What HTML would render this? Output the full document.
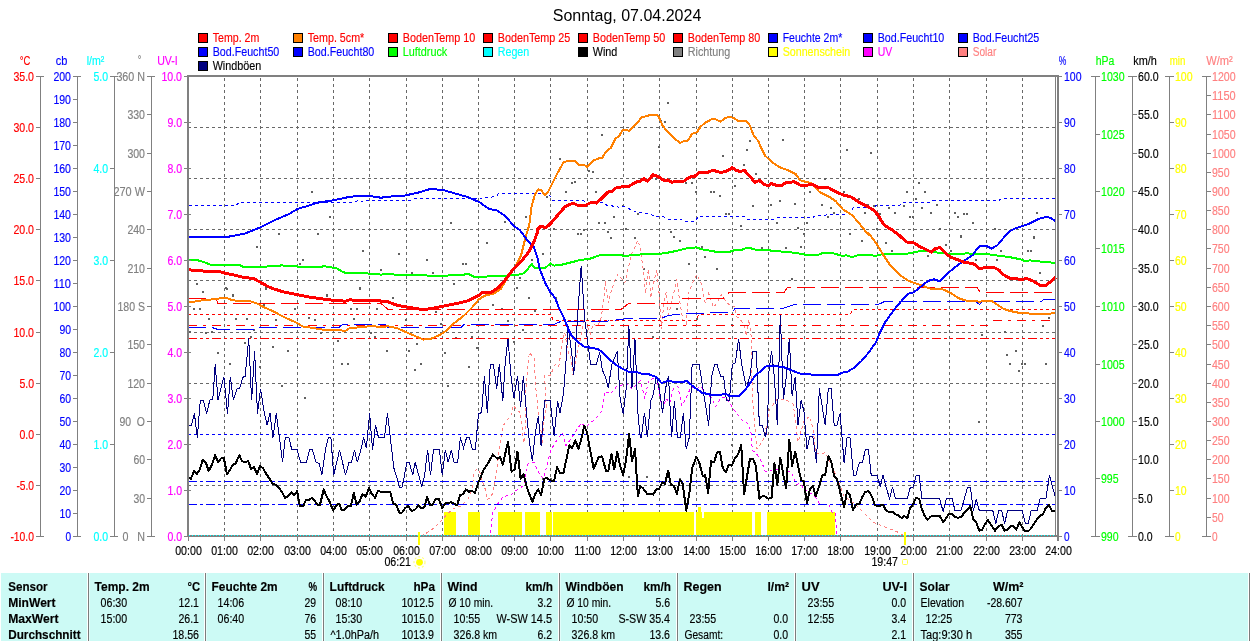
<!DOCTYPE html><html><head><meta charset="utf-8"><style>html,body{margin:0;padding:0;background:#fff}svg{display:block}text{white-space:pre}</style></head><body><svg width="1250" height="641" viewBox="0 0 1250 641" font-family="Liberation Sans, sans-serif" font-size="12.5px" shape-rendering="crispEdges">
<rect x="0" y="0" width="1250" height="641" fill="#fff"/>
<line x1="224.5" y1="78" x2="224.5" y2="535" stroke="#686868" stroke-width="1" stroke-dasharray="3 3"/>
<line x1="260.5" y1="78" x2="260.5" y2="535" stroke="#686868" stroke-width="1" stroke-dasharray="3 3"/>
<line x1="297.5" y1="78" x2="297.5" y2="535" stroke="#686868" stroke-width="1" stroke-dasharray="3 3"/>
<line x1="333.5" y1="78" x2="333.5" y2="535" stroke="#686868" stroke-width="1" stroke-dasharray="3 3"/>
<line x1="369.5" y1="78" x2="369.5" y2="535" stroke="#686868" stroke-width="1" stroke-dasharray="3 3"/>
<line x1="406.5" y1="78" x2="406.5" y2="535" stroke="#686868" stroke-width="1" stroke-dasharray="3 3"/>
<line x1="442.5" y1="78" x2="442.5" y2="535" stroke="#686868" stroke-width="1" stroke-dasharray="3 3"/>
<line x1="478.5" y1="78" x2="478.5" y2="535" stroke="#686868" stroke-width="1" stroke-dasharray="3 3"/>
<line x1="514.5" y1="78" x2="514.5" y2="535" stroke="#686868" stroke-width="1" stroke-dasharray="3 3"/>
<line x1="550.5" y1="78" x2="550.5" y2="535" stroke="#686868" stroke-width="1" stroke-dasharray="3 3"/>
<line x1="587.5" y1="78" x2="587.5" y2="535" stroke="#686868" stroke-width="1" stroke-dasharray="3 3"/>
<line x1="623.5" y1="78" x2="623.5" y2="535" stroke="#686868" stroke-width="1" stroke-dasharray="3 3"/>
<line x1="659.5" y1="78" x2="659.5" y2="535" stroke="#686868" stroke-width="1" stroke-dasharray="3 3"/>
<line x1="696.5" y1="78" x2="696.5" y2="535" stroke="#686868" stroke-width="1" stroke-dasharray="3 3"/>
<line x1="732.5" y1="78" x2="732.5" y2="535" stroke="#686868" stroke-width="1" stroke-dasharray="3 3"/>
<line x1="768.5" y1="78" x2="768.5" y2="535" stroke="#686868" stroke-width="1" stroke-dasharray="3 3"/>
<line x1="804.5" y1="78" x2="804.5" y2="535" stroke="#686868" stroke-width="1" stroke-dasharray="3 3"/>
<line x1="840.5" y1="78" x2="840.5" y2="535" stroke="#686868" stroke-width="1" stroke-dasharray="3 3"/>
<line x1="877.5" y1="78" x2="877.5" y2="535" stroke="#686868" stroke-width="1" stroke-dasharray="3 3"/>
<line x1="913.5" y1="78" x2="913.5" y2="535" stroke="#686868" stroke-width="1" stroke-dasharray="3 3"/>
<line x1="949.5" y1="78" x2="949.5" y2="535" stroke="#686868" stroke-width="1" stroke-dasharray="3 3"/>
<line x1="986.5" y1="78" x2="986.5" y2="535" stroke="#686868" stroke-width="1" stroke-dasharray="3 3"/>
<line x1="1022.5" y1="78" x2="1022.5" y2="535" stroke="#686868" stroke-width="1" stroke-dasharray="3 3"/>
<line x1="188" y1="127.5" x2="1055" y2="127.5" stroke="#686868" stroke-width="1" stroke-dasharray="3 3"/>
<line x1="188" y1="178.5" x2="1055" y2="178.5" stroke="#686868" stroke-width="1" stroke-dasharray="3 3"/>
<line x1="188" y1="229.5" x2="1055" y2="229.5" stroke="#686868" stroke-width="1" stroke-dasharray="3 3"/>
<line x1="188" y1="280.5" x2="1055" y2="280.5" stroke="#686868" stroke-width="1" stroke-dasharray="3 3"/>
<line x1="188" y1="332.5" x2="1055" y2="332.5" stroke="#686868" stroke-width="1" stroke-dasharray="3 3"/>
<line x1="188" y1="383.5" x2="1055" y2="383.5" stroke="#686868" stroke-width="1" stroke-dasharray="3 3"/>
<line x1="188" y1="434.5" x2="1055" y2="434.5" stroke="#686868" stroke-width="1" stroke-dasharray="3 3"/>
<line x1="188" y1="485.5" x2="1055" y2="485.5" stroke="#686868" stroke-width="1" stroke-dasharray="3 3"/>
<rect x="444" y="512" width="12" height="24" fill="#ffff00"/>
<rect x="468" y="512" width="12" height="24" fill="#ffff00"/>
<rect x="498" y="512" width="24" height="24" fill="#ffff00"/>
<rect x="525" y="512" width="15" height="24" fill="#ffff00"/>
<rect x="546" y="512" width="6" height="24" fill="#ffff00"/>
<rect x="553" y="512" width="141" height="24" fill="#ffff00"/>
<rect x="696" y="512" width="56" height="24" fill="#ffff00"/>
<rect x="755" y="512" width="6" height="24" fill="#ffff00"/>
<rect x="767" y="512" width="68" height="24" fill="#ffff00"/>
<rect x="698" y="507" width="3" height="5" fill="#ffff00"/>
<rect x="702" y="512" width="2" height="6" fill="#fff"/>
<rect x="196" y="283" width="2" height="2" fill="#606060"/>
<rect x="202" y="291" width="2" height="2" fill="#606060"/>
<rect x="225" y="287" width="2" height="2" fill="#606060"/>
<rect x="232" y="294" width="2" height="2" fill="#606060"/>
<rect x="193" y="308" width="2" height="2" fill="#606060"/>
<rect x="199" y="308" width="2" height="2" fill="#606060"/>
<rect x="208" y="318" width="2" height="2" fill="#606060"/>
<rect x="217" y="352" width="2" height="2" fill="#606060"/>
<rect x="229" y="363" width="2" height="2" fill="#606060"/>
<rect x="235" y="318" width="2" height="2" fill="#606060"/>
<rect x="246" y="318" width="2" height="2" fill="#606060"/>
<rect x="265" y="287" width="2" height="2" fill="#606060"/>
<rect x="263" y="304" width="2" height="2" fill="#606060"/>
<rect x="275" y="319" width="2" height="2" fill="#606060"/>
<rect x="272" y="346" width="2" height="2" fill="#606060"/>
<rect x="287" y="350" width="2" height="2" fill="#606060"/>
<rect x="281" y="385" width="2" height="2" fill="#606060"/>
<rect x="304" y="397" width="2" height="2" fill="#606060"/>
<rect x="294" y="308" width="2" height="2" fill="#606060"/>
<rect x="308" y="317" width="2" height="2" fill="#606060"/>
<rect x="314" y="319" width="2" height="2" fill="#606060"/>
<rect x="320" y="332" width="2" height="2" fill="#606060"/>
<rect x="326" y="294" width="2" height="2" fill="#606060"/>
<rect x="337" y="340" width="2" height="2" fill="#606060"/>
<rect x="341" y="363" width="2" height="2" fill="#606060"/>
<rect x="347" y="363" width="2" height="2" fill="#606060"/>
<rect x="350" y="308" width="2" height="2" fill="#606060"/>
<rect x="353" y="318" width="2" height="2" fill="#606060"/>
<rect x="356" y="308" width="2" height="2" fill="#606060"/>
<rect x="359" y="287" width="2" height="2" fill="#606060"/>
<rect x="370" y="332" width="2" height="2" fill="#606060"/>
<rect x="374" y="336" width="2" height="2" fill="#606060"/>
<rect x="376" y="308" width="2" height="2" fill="#606060"/>
<rect x="386" y="350" width="2" height="2" fill="#606060"/>
<rect x="392" y="297" width="2" height="2" fill="#606060"/>
<rect x="405" y="319" width="2" height="2" fill="#606060"/>
<rect x="408" y="350" width="2" height="2" fill="#606060"/>
<rect x="416" y="343" width="2" height="2" fill="#606060"/>
<rect x="414" y="369" width="2" height="2" fill="#606060"/>
<rect x="420" y="363" width="2" height="2" fill="#606060"/>
<rect x="435" y="311" width="2" height="2" fill="#606060"/>
<rect x="440" y="323" width="2" height="2" fill="#606060"/>
<rect x="444" y="352" width="2" height="2" fill="#606060"/>
<rect x="447" y="385" width="2" height="2" fill="#606060"/>
<rect x="453" y="283" width="2" height="2" fill="#606060"/>
<rect x="455" y="337" width="2" height="2" fill="#606060"/>
<rect x="468" y="366" width="2" height="2" fill="#606060"/>
<rect x="471" y="336" width="2" height="2" fill="#606060"/>
<rect x="477" y="347" width="2" height="2" fill="#606060"/>
<rect x="311" y="191" width="2" height="2" fill="#606060"/>
<rect x="329" y="216" width="2" height="2" fill="#606060"/>
<rect x="278" y="233" width="2" height="2" fill="#606060"/>
<rect x="317" y="233" width="2" height="2" fill="#606060"/>
<rect x="256" y="246" width="2" height="2" fill="#606060"/>
<rect x="362" y="250" width="2" height="2" fill="#606060"/>
<rect x="398" y="253" width="2" height="2" fill="#606060"/>
<rect x="450" y="222" width="2" height="2" fill="#606060"/>
<rect x="426" y="259" width="2" height="2" fill="#606060"/>
<rect x="302" y="259" width="2" height="2" fill="#606060"/>
<rect x="299" y="263" width="2" height="2" fill="#606060"/>
<rect x="462" y="263" width="2" height="2" fill="#606060"/>
<rect x="465" y="263" width="2" height="2" fill="#606060"/>
<rect x="380" y="269" width="2" height="2" fill="#606060"/>
<rect x="411" y="272" width="2" height="2" fill="#606060"/>
<rect x="432" y="272" width="2" height="2" fill="#606060"/>
<rect x="453" y="283" width="2" height="2" fill="#606060"/>
<rect x="196" y="283" width="2" height="2" fill="#606060"/>
<rect x="202" y="291" width="2" height="2" fill="#606060"/>
<rect x="226" y="288" width="2" height="2" fill="#606060"/>
<rect x="232" y="295" width="2" height="2" fill="#606060"/>
<rect x="359" y="288" width="2" height="2" fill="#606060"/>
<rect x="326" y="295" width="2" height="2" fill="#606060"/>
<rect x="392" y="297" width="2" height="2" fill="#606060"/>
<rect x="265" y="288" width="2" height="2" fill="#606060"/>
<rect x="667" y="102" width="2" height="2" fill="#606060"/>
<rect x="601" y="134" width="2" height="2" fill="#606060"/>
<rect x="559" y="158" width="2" height="2" fill="#606060"/>
<rect x="592" y="171" width="2" height="2" fill="#606060"/>
<rect x="588" y="170" width="2" height="2" fill="#606060"/>
<rect x="574" y="181" width="2" height="2" fill="#606060"/>
<rect x="571" y="182" width="2" height="2" fill="#606060"/>
<rect x="565" y="191" width="2" height="2" fill="#606060"/>
<rect x="595" y="191" width="2" height="2" fill="#606060"/>
<rect x="546" y="196" width="2" height="2" fill="#606060"/>
<rect x="525" y="216" width="2" height="2" fill="#606060"/>
<rect x="504" y="221" width="2" height="2" fill="#606060"/>
<rect x="486" y="242" width="2" height="2" fill="#606060"/>
<rect x="553" y="228" width="2" height="2" fill="#606060"/>
<rect x="577" y="233" width="2" height="2" fill="#606060"/>
<rect x="580" y="233" width="2" height="2" fill="#606060"/>
<rect x="583" y="229" width="2" height="2" fill="#606060"/>
<rect x="598" y="222" width="2" height="2" fill="#606060"/>
<rect x="604" y="222" width="2" height="2" fill="#606060"/>
<rect x="607" y="231" width="2" height="2" fill="#606060"/>
<rect x="610" y="237" width="2" height="2" fill="#606060"/>
<rect x="613" y="216" width="2" height="2" fill="#606060"/>
<rect x="622" y="205" width="2" height="2" fill="#606060"/>
<rect x="625" y="228" width="2" height="2" fill="#606060"/>
<rect x="637" y="213" width="2" height="2" fill="#606060"/>
<rect x="634" y="237" width="2" height="2" fill="#606060"/>
<rect x="658" y="146" width="2" height="2" fill="#606060"/>
<rect x="660" y="120" width="2" height="2" fill="#606060"/>
<rect x="664" y="121" width="2" height="2" fill="#606060"/>
<rect x="670" y="231" width="2" height="2" fill="#606060"/>
<rect x="673" y="236" width="2" height="2" fill="#606060"/>
<rect x="679" y="240" width="2" height="2" fill="#606060"/>
<rect x="685" y="182" width="2" height="2" fill="#606060"/>
<rect x="691" y="182" width="2" height="2" fill="#606060"/>
<rect x="695" y="191" width="2" height="2" fill="#606060"/>
<rect x="710" y="191" width="2" height="2" fill="#606060"/>
<rect x="713" y="191" width="2" height="2" fill="#606060"/>
<rect x="719" y="195" width="2" height="2" fill="#606060"/>
<rect x="722" y="155" width="2" height="2" fill="#606060"/>
<rect x="725" y="213" width="2" height="2" fill="#606060"/>
<rect x="728" y="213" width="2" height="2" fill="#606060"/>
<rect x="734" y="185" width="2" height="2" fill="#606060"/>
<rect x="740" y="225" width="2" height="2" fill="#606060"/>
<rect x="743" y="164" width="2" height="2" fill="#606060"/>
<rect x="746" y="149" width="2" height="2" fill="#606060"/>
<rect x="749" y="140" width="2" height="2" fill="#606060"/>
<rect x="752" y="205" width="2" height="2" fill="#606060"/>
<rect x="755" y="173" width="2" height="2" fill="#606060"/>
<rect x="655" y="178" width="2" height="2" fill="#606060"/>
<rect x="731" y="168" width="2" height="2" fill="#606060"/>
<rect x="486" y="242" width="2" height="2" fill="#606060"/>
<rect x="542" y="253" width="2" height="2" fill="#606060"/>
<rect x="531" y="259" width="2" height="2" fill="#606060"/>
<rect x="519" y="277" width="2" height="2" fill="#606060"/>
<rect x="516" y="287" width="2" height="2" fill="#606060"/>
<rect x="528" y="297" width="2" height="2" fill="#606060"/>
<rect x="492" y="304" width="2" height="2" fill="#606060"/>
<rect x="501" y="308" width="2" height="2" fill="#606060"/>
<rect x="534" y="310" width="2" height="2" fill="#606060"/>
<rect x="507" y="320" width="2" height="2" fill="#606060"/>
<rect x="522" y="329" width="2" height="2" fill="#606060"/>
<rect x="513" y="341" width="2" height="2" fill="#606060"/>
<rect x="476" y="347" width="2" height="2" fill="#606060"/>
<rect x="555" y="297" width="2" height="2" fill="#606060"/>
<rect x="643" y="268" width="2" height="2" fill="#606060"/>
<rect x="688" y="263" width="2" height="2" fill="#606060"/>
<rect x="704" y="256" width="2" height="2" fill="#606060"/>
<rect x="716" y="268" width="2" height="2" fill="#606060"/>
<rect x="701" y="246" width="2" height="2" fill="#606060"/>
<rect x="761" y="247" width="2" height="2" fill="#606060"/>
<rect x="740" y="225" width="2" height="2" fill="#606060"/>
<rect x="676" y="308" width="2" height="2" fill="#606060"/>
<rect x="652" y="336" width="2" height="2" fill="#606060"/>
<rect x="731" y="324" width="2" height="2" fill="#606060"/>
<rect x="696" y="318" width="2" height="2" fill="#606060"/>
<rect x="542" y="478" width="2" height="2" fill="#606060"/>
<rect x="550" y="478" width="2" height="2" fill="#606060"/>
<rect x="628" y="476" width="2" height="2" fill="#606060"/>
<rect x="646" y="476" width="2" height="2" fill="#606060"/>
<rect x="664" y="482" width="2" height="2" fill="#606060"/>
<rect x="679" y="478" width="2" height="2" fill="#606060"/>
<rect x="731" y="444" width="2" height="2" fill="#606060"/>
<rect x="782" y="139" width="2" height="2" fill="#606060"/>
<rect x="846" y="149" width="2" height="2" fill="#606060"/>
<rect x="870" y="152" width="2" height="2" fill="#606060"/>
<rect x="788" y="170" width="2" height="2" fill="#606060"/>
<rect x="824" y="178" width="2" height="2" fill="#606060"/>
<rect x="809" y="191" width="2" height="2" fill="#606060"/>
<rect x="843" y="191" width="2" height="2" fill="#606060"/>
<rect x="779" y="200" width="2" height="2" fill="#606060"/>
<rect x="770" y="204" width="2" height="2" fill="#606060"/>
<rect x="794" y="203" width="2" height="2" fill="#606060"/>
<rect x="821" y="204" width="2" height="2" fill="#606060"/>
<rect x="830" y="207" width="2" height="2" fill="#606060"/>
<rect x="833" y="212" width="2" height="2" fill="#606060"/>
<rect x="827" y="216" width="2" height="2" fill="#606060"/>
<rect x="776" y="222" width="2" height="2" fill="#606060"/>
<rect x="806" y="222" width="2" height="2" fill="#606060"/>
<rect x="797" y="227" width="2" height="2" fill="#606060"/>
<rect x="803" y="233" width="2" height="2" fill="#606060"/>
<rect x="849" y="233" width="2" height="2" fill="#606060"/>
<rect x="861" y="240" width="2" height="2" fill="#606060"/>
<rect x="858" y="198" width="2" height="2" fill="#606060"/>
<rect x="867" y="204" width="2" height="2" fill="#606060"/>
<rect x="873" y="205" width="2" height="2" fill="#606060"/>
<rect x="864" y="212" width="2" height="2" fill="#606060"/>
<rect x="879" y="213" width="2" height="2" fill="#606060"/>
<rect x="888" y="207" width="2" height="2" fill="#606060"/>
<rect x="894" y="212" width="2" height="2" fill="#606060"/>
<rect x="885" y="242" width="2" height="2" fill="#606060"/>
<rect x="876" y="228" width="2" height="2" fill="#606060"/>
<rect x="903" y="205" width="2" height="2" fill="#606060"/>
<rect x="906" y="191" width="2" height="2" fill="#606060"/>
<rect x="915" y="198" width="2" height="2" fill="#606060"/>
<rect x="918" y="182" width="2" height="2" fill="#606060"/>
<rect x="924" y="191" width="2" height="2" fill="#606060"/>
<rect x="921" y="207" width="2" height="2" fill="#606060"/>
<rect x="909" y="216" width="2" height="2" fill="#606060"/>
<rect x="912" y="216" width="2" height="2" fill="#606060"/>
<rect x="930" y="212" width="2" height="2" fill="#606060"/>
<rect x="936" y="204" width="2" height="2" fill="#606060"/>
<rect x="939" y="228" width="2" height="2" fill="#606060"/>
<rect x="954" y="212" width="2" height="2" fill="#606060"/>
<rect x="957" y="216" width="2" height="2" fill="#606060"/>
<rect x="963" y="213" width="2" height="2" fill="#606060"/>
<rect x="966" y="213" width="2" height="2" fill="#606060"/>
<rect x="960" y="236" width="2" height="2" fill="#606060"/>
<rect x="972" y="222" width="2" height="2" fill="#606060"/>
<rect x="994" y="228" width="2" height="2" fill="#606060"/>
<rect x="1033" y="237" width="2" height="2" fill="#606060"/>
<rect x="1036" y="212" width="2" height="2" fill="#606060"/>
<rect x="797" y="227" width="2" height="2" fill="#606060"/>
<rect x="803" y="233" width="2" height="2" fill="#606060"/>
<rect x="785" y="247" width="2" height="2" fill="#606060"/>
<rect x="800" y="246" width="2" height="2" fill="#606060"/>
<rect x="791" y="278" width="2" height="2" fill="#606060"/>
<rect x="849" y="233" width="2" height="2" fill="#606060"/>
<rect x="861" y="240" width="2" height="2" fill="#606060"/>
<rect x="876" y="228" width="2" height="2" fill="#606060"/>
<rect x="885" y="242" width="2" height="2" fill="#606060"/>
<rect x="891" y="250" width="2" height="2" fill="#606060"/>
<rect x="927" y="255" width="2" height="2" fill="#606060"/>
<rect x="945" y="244" width="2" height="2" fill="#606060"/>
<rect x="950" y="250" width="2" height="2" fill="#606060"/>
<rect x="960" y="235" width="2" height="2" fill="#606060"/>
<rect x="939" y="228" width="2" height="2" fill="#606060"/>
<rect x="975" y="259" width="2" height="2" fill="#606060"/>
<rect x="996" y="259" width="2" height="2" fill="#606060"/>
<rect x="1000" y="250" width="2" height="2" fill="#606060"/>
<rect x="994" y="228" width="2" height="2" fill="#606060"/>
<rect x="1027" y="250" width="2" height="2" fill="#606060"/>
<rect x="1030" y="250" width="2" height="2" fill="#606060"/>
<rect x="1033" y="236" width="2" height="2" fill="#606060"/>
<rect x="1039" y="272" width="2" height="2" fill="#606060"/>
<rect x="1048" y="317" width="2" height="2" fill="#606060"/>
<rect x="1042" y="325" width="2" height="2" fill="#606060"/>
<rect x="981" y="334" width="2" height="2" fill="#606060"/>
<rect x="1004" y="331" width="2" height="2" fill="#606060"/>
<rect x="1006" y="354" width="2" height="2" fill="#606060"/>
<rect x="1015" y="350" width="2" height="2" fill="#606060"/>
<rect x="1009" y="363" width="2" height="2" fill="#606060"/>
<rect x="1021" y="363" width="2" height="2" fill="#606060"/>
<rect x="1024" y="363" width="2" height="2" fill="#606060"/>
<rect x="1018" y="370" width="2" height="2" fill="#606060"/>
<rect x="1045" y="363" width="2" height="2" fill="#606060"/>
<rect x="969" y="308" width="2" height="2" fill="#606060"/>
<rect x="978" y="421" width="2" height="2" fill="#606060"/>
<rect x="244" y="342" width="2" height="2" fill="#606060"/>
<rect x="250" y="336" width="2" height="2" fill="#606060"/>
<rect x="259" y="366" width="2" height="2" fill="#606060"/>
<rect x="189" y="331" width="2" height="2" fill="#606060"/>
<rect x="205" y="332" width="2" height="2" fill="#606060"/>
<rect x="211" y="331" width="2" height="2" fill="#606060"/>
<rect x="253" y="329" width="2" height="2" fill="#606060"/>
<polyline points="421.0,536.1 430.5,530.7 439.9,522.4 447.0,514.2 454.1,508.3 461.1,505.9 468.2,498.8 471.8,489.4 474.1,472.9 476.5,469.3 478.8,469.3 482.7,482.3 485.3,489.2 487.0,499.5 491.3,497.8 493.9,485.8 496.4,472.0 498.2,458.3 500.7,439.5 503.3,425.7 506.7,420.6 511.0,415.4 513.6,405.1 516.2,409.4 520.5,412.9 522.2,429.2 523.9,442.9 525.6,422.3 525.7,391.4 529.3,352.4 534.0,358.3 536.0,390.0 537.6,401.7 538.5,420.6 541.0,430.9 541.9,445.5 543.6,424.0 546.2,406.9 544.6,375.1 550.5,375.1 555.2,364.2 558.8,366.6 562.3,343.0 564.7,332.4 568.2,352.4 570.6,357.2 572.9,375.1 576.5,357.2 580.0,340.6 583.6,319.4 587.1,326.5 590.6,333.6 593.0,324.1 597.7,326.5 601.3,317.0 603.6,300.5 605.3,280.5 608.3,302.9 611.9,288.7 615.4,279.3 617.8,274.6 621.3,278.1 624.9,282.8 628.4,267.5 632.0,253.3 637.9,240.3 640.2,248.6 643.0,267.5 645.4,293.4 648.5,268.7 650.8,298.2 653.7,282.8 656.7,269.8 659.1,293.4 661.5,328.8 663.8,302.9 666.2,292.3 668.5,314.7 672.1,300.5 676.8,279.3 680.3,305.2 682.7,319.4 686.2,324.1 688.6,293.4 692.1,284.0 696.9,274.6 701.6,284.0 705.1,302.9 708.7,293.4 713.4,307.6 716.9,302.9 721.6,294.6 725.2,300.5 729.9,305.2 734.6,306.4 737.0,317.0 740.5,319.4 744.1,326.5 746.4,335.9 748.8,319.4 751.1,335.9 752.3,395.0 754.7,423.3 757.0,449.3 761.8,442.2 765.3,435.1 768.8,433.9 765.0,432.8 769.7,409.2 776.8,399.7 786.2,399.7 793.3,404.4 798.0,442.2 803.9,421.0 809.8,416.2 813.4,430.4 815.7,454.0 825.2,452.8 831.1,463.4 837.0,477.6 844.1,496.5 854.7,503.6 864.1,513.0 873.6,522.4 885.4,527.2 897.2,531.9 905.0,536.1" fill="none" stroke="#ff8080" stroke-width="1" stroke-dasharray="3 3"/>
<polyline points="490.3,533.1 492.7,513.0 498.6,502.4 503.3,496.5 510.4,495.3 517.5,489.4 523.4,485.9 528.1,463.4 534.0,462.3 538.7,472.9 543.4,478.8 548.2,461.1 550.5,450.5 556.4,440.9 562.3,432.7 565.9,445.6 569.4,440.9 574.1,433.8 581.2,423.2 585.9,426.8 593.0,420.9 597.7,416.1 602.4,410.2 604.8,391.4 610.7,393.7 616.6,386.6 621.3,385.5 626.1,383.1 632.0,389.0 640.2,380.7 644.9,398.4 648.5,380.7 653.2,378.4 656.7,376.0 660.3,400.8 662.6,410.2 666.2,398.4 669.7,403.2 673.3,389.0 678.0,386.6 681.5,405.5 686.2,398.4 691.0,386.6 695.7,389.0 701.6,386.6 705.1,393.7 711.0,397.3 715.7,406.7 720.5,398.4 725.2,397.3 728.7,400.8 732.3,407.9 737.0,413.8 741.7,419.7 748.8,424.4 751.1,433.8 752.3,450.4 755.9,452.7 761.8,462.2 765.3,471.6 768.8,470.4 776.8,469.3 786.2,470.5 792.1,472.9 795.7,484.7 800.4,483.5 803.9,489.4 812.2,494.1 815.7,497.7 819.3,503.6 828.7,504.7 832.3,512.3 835.3,512.3 837.0,536.1" fill="none" stroke="#ff00ff" stroke-width="1" stroke-dasharray="3 3"/>
<polyline points="188.5,205.5 235.7,205.5 239.3,202.4 354.9,202.4 358.5,200.0 362.0,201.5 364.4,200.0 411.6,200.0 415.1,198.4 478.8,198.4 496.2,196.5 498.6,193.4 547.0,193.4 550.5,196.5 552.9,200.5 583.6,200.5 585.9,202.4 602.4,202.4 607.2,205.5 616.6,206.4 619.0,207.8 623.7,206.6 630.8,209.5 636.7,212.3 649.7,213.7 654.4,216.5 663.8,217.0 668.5,219.4 680.3,219.4 685.1,221.3 695.7,221.3 698.0,216.5 744.1,216.5 747.6,219.4 768.8,219.4 774.4,219.4 778.0,217.0 813.4,217.0 815.7,215.4 847.6,214.2 851.1,210.6 853.5,207.6 873.6,207.6 875.9,205.5 899.5,205.5 903.1,202.4 930.2,202.4 932.6,200.7 998.7,200.7 1001.0,198.4 1055.8,198.4" fill="none" stroke="#0000ff" stroke-width="1" stroke-dasharray="3 3"/>
<polyline points="188.0,434.5 1056.0,434.5" fill="none" stroke="#0000ff" stroke-width="1" stroke-dasharray="3 3"/>
<polyline points="188.0,481.5 1056.0,481.5" fill="none" stroke="#0000ff" stroke-width="1" stroke-dasharray="9 3 3 3"/>
<polyline points="188.0,504.5 1056.0,504.5" fill="none" stroke="#0000ff" stroke-width="1" stroke-dasharray="9 3 3 3"/>
<polyline points="188.0,314.5 551.0,314.5 553.0,320.5 697.0,320.5 698.5,314.5 850.0,314.5 853.0,309.3 1056.0,309.3" fill="none" stroke="#ff0000" stroke-width="1" stroke-dasharray="3 3"/>
<polyline points="188.0,325.5 765.0,325.8 988.0,325.8" fill="none" stroke="#ff0000" stroke-width="1" stroke-dasharray="9 6 3 6"/>
<polyline points="992.8,320.6 1055.8,320.6" fill="none" stroke="#ff0000" stroke-width="1" stroke-dasharray="9 6 3 6"/>
<polyline points="188.0,338.5 1056.0,338.5" fill="none" stroke="#ff0000" stroke-width="1" stroke-dasharray="9 3 3 3 3 3"/>
<polyline points="188.0,298.5 216.0,298.5 218.0,303.5 381.0,303.5 388.0,309.3 475.0,309.3 621.3,309.3 628.4,303.6 678.0,303.6 682.7,298.9 722.8,298.9 728.7,292.7 768.8,292.7 783.9,292.7 787.4,287.5 977.4,287.5 980.2,292.7 1055.8,292.7" fill="none" stroke="#ff0000" stroke-width="1" stroke-dasharray="18 6"/>
<polyline points="188.0,327.5 212.0,327.5 218.0,329.5 253.0,329.5 255.0,327.5 339.0,327.5 342.0,324.8 385.6,324.8 388.0,327.5 461.0,327.5 463.5,324.8 475.0,324.8 552.9,324.8 560.0,321.8 602.4,321.8 626.1,318.7 660.3,318.7 668.5,315.4 685.1,313.5 732.3,312.3 734.6,308.8 768.8,308.3 781.5,308.8 794.5,304.5 878.3,304.5 884.2,301.7 976.2,301.7 979.3,304.5 982.1,301.7 1041.1,301.7 1043.5,299.8 1055.8,299.8" fill="none" stroke="#0000ff" stroke-width="1" stroke-dasharray="18 6"/>
<polyline points="188.5,425.7 191.6,425.2 194.4,413.4 197.3,437.5 200.3,400.2 203.4,400.2 206.7,413.4 209.8,400.2 212.8,399.2 215.2,364.4 218.0,399.8 223.9,376.7 227.5,413.5 230.3,376.7 233.4,400.3 236.9,389.2 239.8,388.0 242.8,377.4 245.2,376.2 248.7,338.4 251.6,400.3 254.6,351.4 257.5,413.5 260.5,388.7 264.1,411.5 267.1,425.2 270.0,413.4 273.0,437.5 276.3,413.4 279.4,437.5 282.5,462.3 285.3,437.5 288.8,437.5 291.7,449.3 297.1,449.8 300.6,462.3 306.5,462.3 309.6,449.8 312.4,449.8 316.0,462.3 319.1,463.4 321.9,475.2 325.4,449.8 328.3,437.5 330.9,437.5 333.7,475.2 339.6,449.8 345.5,475.2 349.0,462.3 351.4,462.3 354.5,449.8 357.3,462.3 360.8,449.8 363.7,437.5 366.3,448.1 369.6,413.4 372.6,449.8 375.5,425.2 378.5,437.5 384.4,437.5 387.5,413.4 390.3,437.5 393.9,468.2 396.2,475.2 399.3,487.0 402.1,487.0 404.5,475.2 406.9,462.3 409.2,462.3 412.8,475.2 415.1,462.3 418.7,475.2 421.7,487.0 424.6,475.2 427.6,449.8 430.5,475.2 433.5,449.8 439.4,449.8 442.3,475.2 445.3,449.8 448.2,462.3 451.2,449.8 454.1,462.3 457.6,462.3 460.4,437.5 463.5,448.1 466.6,437.5 469.4,437.5 472.5,449.8 475.3,449.8 478.5,413.8 481.6,412.6 484.4,376.0 487.3,412.6 490.3,364.2 493.4,364.2 496.7,389.0 499.3,364.2 502.8,400.8 505.2,363.0 508.0,339.0 511.1,377.2 513.9,398.4 517.5,376.0 520.6,406.7 523.4,376.0 526.5,412.6 529.3,440.9 532.4,461.0 535.2,433.8 538.3,416.1 541.1,445.6 544.6,400.3 550.1,400.3 554.1,436.2 557.6,400.8 560.0,412.6 563.5,393.7 565.9,363.0 568.2,326.5 571.8,353.6 573.7,374.8 575.3,353.6 577.7,314.7 581.2,265.6 584.7,319.4 587.8,343.0 590.6,364.2 596.5,364.2 599.6,352.4 602.4,370.1 605.5,377.2 608.3,387.8 611.9,364.2 617.3,351.2 620.1,398.4 623.2,413.8 626.1,389.0 628.9,326.5 632.0,387.8 635.0,339.4 637.9,412.6 640.2,437.4 641.4,437.4 644.5,412.6 647.3,437.4 650.8,400.8 653.2,394.9 656.3,376.0 659.1,387.8 662.6,412.6 665.7,387.8 668.5,376.0 671.6,437.4 674.4,400.8 677.5,437.4 680.3,437.4 683.4,412.6 686.2,449.2 689.3,437.4 692.1,364.2 699.2,364.2 702.8,387.8 708.7,425.6 711.7,376.0 714.6,364.2 716.9,364.2 720.5,376.0 723.5,376.0 726.4,400.8 729.4,400.8 732.3,364.2 735.3,363.0 738.6,339.0 741.7,364.2 746.4,387.8 750.0,376.0 753.0,351.2 756.3,351.2 759.4,425.6 762.5,425.6 765.3,437.4 767.7,424.4 768.5,375.5 771.6,350.7 774.4,377.9 777.3,425.1 780.3,314.6 783.4,399.1 786.2,377.9 789.3,338.9 792.1,395.6 795.2,376.7 798.0,425.1 801.1,400.3 803.9,410.9 807.0,449.2 809.8,436.9 812.9,436.9 816.5,462.9 819.3,388.5 825.2,425.1 828.3,388.5 831.1,388.5 834.2,425.1 837.0,425.1 840.1,413.3 844.1,462.9 847.1,437.5 850.0,437.5 853.5,475.2 855.9,475.2 859.4,462.3 862.5,462.3 865.3,449.8 868.4,449.8 871.2,475.2 877.1,475.2 880.2,487.0 883.0,475.2 886.1,487.0 889.6,498.8 892.4,487.0 895.5,498.8 907.3,498.8 910.1,488.2 913.2,487.0 916.1,475.2 919.1,475.2 922.0,498.8 939.7,498.8 943.2,511.8 946.3,498.8 952.2,498.8 955.0,510.6 960.9,510.6 964.4,498.8 967.5,487.0 970.3,487.0 973.4,510.6 976.2,498.8 979.3,510.6 992.8,510.6 995.8,523.6 998.7,510.6 1001.7,510.6 1004.6,523.6 1007.6,510.6 1022.3,510.6 1025.3,523.6 1028.2,523.6 1031.2,510.6 1037.1,510.6 1040.0,498.8 1045.9,498.8 1049.4,475.2 1052.5,487.0 1055.8,498.8" fill="none" stroke="#000080" stroke-width="1"/>
<polyline points="188.5,260.0 196.8,260.0 203.9,262.1 211.0,264.9 239.3,264.9 242.8,266.8 265.2,266.8 270.0,265.9 279.4,265.9 281.8,264.9 284.1,265.9 295.9,265.9 298.3,266.8 321.9,266.8 324.2,265.9 326.6,266.8 336.1,268.0 342.0,271.5 345.5,273.0 366.7,273.0 369.1,273.9 378.5,273.9 380.9,274.9 384.4,273.9 392.7,273.9 395.1,274.9 425.7,274.9 428.1,275.8 447.0,275.8 449.3,274.9 463.5,274.9 465.9,273.9 469.4,274.4 472.9,276.3 475.3,277.2 478.8,277.2 486.8,276.5 493.9,275.7 505.7,275.7 517.5,275.0 523.4,273.4 528.1,268.7 531.6,263.9 534.0,267.5 545.8,267.5 550.5,263.5 554.1,265.6 560.0,265.1 569.4,262.8 578.8,260.4 590.6,258.5 600.1,255.2 611.9,254.5 621.3,255.2 626.1,256.4 633.1,254.5 640.2,254.5 647.3,254.0 652.0,254.5 663.8,253.3 670.9,252.1 678.0,250.5 687.4,248.1 696.9,247.4 701.6,249.3 708.7,250.5 715.7,251.7 729.9,251.7 733.4,250.5 741.7,249.8 746.4,247.9 750.0,247.9 753.5,249.3 760.6,250.3 768.8,250.3 774.4,251.0 788.6,252.1 802.8,254.0 806.3,255.0 819.3,254.5 822.8,252.8 831.1,252.8 835.8,254.0 842.9,256.2 846.4,255.2 852.3,257.3 858.2,255.0 871.2,255.0 874.7,256.2 883.0,254.0 892.4,253.8 906.6,253.8 918.4,251.4 930.2,251.4 937.3,252.6 949.1,254.0 963.3,254.0 966.8,252.8 970.3,254.0 986.9,254.0 998.7,255.7 1010.5,257.3 1019.9,259.2 1024.6,260.9 1030.5,260.4 1036.4,261.1 1048.2,262.3 1055.8,262.8" fill="none" stroke="#00ff00" stroke-width="2" stroke-linejoin="round"/>
<polyline points="188.5,302.6 199.2,300.7 211.0,299.5 220.4,298.3 227.5,298.3 232.2,300.2 241.6,301.4 248.7,300.7 255.8,303.0 265.2,307.8 274.7,312.0 284.1,317.2 295.9,322.4 303.0,326.6 312.4,327.8 321.9,329.5 331.3,330.4 340.8,330.4 345.5,330.9 350.2,327.8 359.7,327.4 369.1,326.2 378.5,326.6 380.9,327.4 388.0,326.2 397.4,328.3 406.9,332.5 416.3,336.6 423.4,339.6 430.5,338.9 439.9,334.9 447.0,330.2 454.1,323.1 463.5,316.0 472.9,306.6 478.8,299.5 484.4,295.8 493.9,293.4 501.0,288.7 508.0,276.9 515.1,267.5 521.0,255.7 525.7,236.8 529.3,225.0 531.6,205.9 535.2,194.1 538.3,189.4 541.1,189.9 544.6,195.3 548.2,191.8 552.9,182.3 557.6,172.9 563.5,162.3 569.4,160.6 575.3,161.1 578.8,164.6 583.6,164.6 587.1,167.0 593.0,160.6 597.7,158.7 602.4,157.5 606.0,151.6 610.7,148.1 615.4,138.7 619.0,136.3 622.5,130.4 626.1,129.9 629.6,130.9 634.3,125.7 637.9,122.1 641.4,117.4 647.3,115.8 652.0,114.6 656.7,115.1 659.1,117.4 662.6,125.7 668.5,132.8 674.4,138.7 680.3,142.9 683.9,141.0 687.4,141.0 692.1,133.9 696.9,132.3 700.4,126.9 705.1,122.8 708.7,121.0 712.2,118.6 716.9,119.8 720.5,121.7 725.2,117.9 729.9,116.7 733.4,117.9 738.2,121.0 746.4,121.0 750.0,125.7 753.5,135.1 758.2,141.0 761.8,149.3 765.3,155.9 768.8,159.2 772.1,162.3 779.2,167.0 788.6,170.5 795.7,174.1 800.4,180.4 812.2,183.5 819.3,191.8 828.7,196.5 835.8,201.2 842.9,209.5 847.6,212.3 852.3,215.4 859.4,223.6 868.8,235.4 868.8,233.3 875.9,242.7 883.0,254.5 890.1,265.1 899.5,274.6 906.6,279.8 913.7,282.8 920.8,285.2 930.2,288.7 939.7,288.7 944.4,289.9 951.5,293.4 958.5,298.2 965.6,300.5 972.7,301.0 979.8,301.7 984.5,301.0 991.6,301.0 996.3,304.1 1003.4,308.8 1010.5,311.1 1019.9,313.0 1029.3,313.5 1038.8,314.2 1048.2,314.2 1055.8,312.3" fill="none" stroke="#ff8000" stroke-width="2" stroke-linejoin="round"/>
<polyline points="188.5,237.3 227.5,236.9 244.0,233.8 260.5,227.4 274.7,220.1 288.8,214.2 297.3,209.0 307.7,205.9 319.5,202.2 333.7,200.3 347.9,197.2 357.3,196.0 371.5,196.3 380.9,197.7 392.7,196.3 404.5,195.6 418.7,192.5 430.5,188.9 443.4,190.1 454.1,193.2 468.2,197.2 478.8,201.9 479.7,202.4 489.2,209.0 497.4,210.6 505.7,216.5 513.9,226.0 519.8,230.2 525.7,237.8 526.9,240.3 534.0,247.4 537.5,258.0 539.9,269.8 545.8,284.0 550.5,292.3 555.2,298.2 558.8,307.6 563.5,317.0 568.2,328.8 571.8,335.9 576.5,340.6 583.6,346.5 590.6,347.7 597.7,348.9 603.6,353.2 609.5,359.5 616.6,365.4 623.7,369.4 628.4,371.8 637.9,372.5 641.4,373.7 648.5,374.2 656.7,377.2 661.5,383.1 668.5,380.7 675.6,382.4 682.7,382.4 686.2,380.7 692.1,385.5 701.6,392.5 711.0,394.9 720.5,394.9 725.2,393.7 729.9,396.1 739.3,395.6 744.1,391.4 750.0,383.1 755.9,374.8 760.6,371.3 765.3,366.6 768.8,365.9 774.4,366.1 783.9,367.3 791.0,370.1 800.4,373.7 812.2,374.6 838.2,374.6 842.9,372.5 847.6,371.8 854.7,367.3 861.8,360.7 868.8,352.4 875.9,342.3 879.5,333.6 885.4,321.8 894.8,308.8 901.9,300.5 909.0,293.4 913.7,292.3 918.4,288.7 925.5,282.8 930.2,280.0 933.8,279.3 939.7,281.2 949.1,272.2 956.2,266.3 965.6,259.7 972.7,255.2 976.2,249.8 979.8,245.8 985.7,245.5 991.6,248.6 997.5,245.1 1003.4,238.0 1010.5,230.9 1015.2,228.5 1025.8,225.0 1029.3,223.6 1038.8,218.9 1045.9,217.0 1050.6,217.7 1055.8,221.3" fill="none" stroke="#0000ff" stroke-width="2" stroke-linejoin="round"/>
<polyline points="188.5,269.7 196.8,270.8 219.2,271.5 225.1,273.2 232.2,274.6 244.0,277.4 253.4,278.6 260.5,282.2 267.6,286.4 274.7,289.2 284.1,292.1 295.9,294.4 307.7,296.8 317.2,298.2 317.2,298.3 331.3,300.0 345.5,301.2 350.2,299.5 354.9,300.7 373.8,300.2 388.0,301.9 397.4,305.4 411.6,307.8 423.4,309.7 435.2,307.8 447.0,305.4 458.8,303.0 468.2,300.7 478.8,295.5 482.1,292.3 491.5,292.3 498.6,287.5 505.7,279.3 512.8,269.8 522.2,260.4 529.3,251.0 534.0,241.5 537.5,232.1 537.5,229.5 541.1,226.0 545.8,227.9 550.5,223.6 557.6,215.4 564.7,207.1 569.4,204.3 574.1,203.6 578.8,205.9 584.7,205.9 589.5,203.1 593.0,202.4 596.5,203.1 602.4,197.7 608.3,191.8 611.9,191.8 615.4,188.2 621.3,187.0 628.4,186.6 635.5,182.3 640.2,181.1 643.8,178.8 647.3,181.1 653.2,174.8 657.9,176.4 663.8,180.4 667.4,180.0 672.1,182.3 676.8,181.1 683.9,181.1 689.8,177.1 694.5,176.4 699.2,172.4 707.5,172.4 712.2,170.5 715.7,171.0 720.5,172.4 725.2,171.7 728.7,170.1 732.3,167.7 735.8,170.1 740.5,171.7 744.1,170.1 750.0,176.4 754.7,182.3 759.4,180.4 764.1,184.7 768.8,185.4 770.9,183.5 776.8,185.4 781.5,185.4 786.2,182.3 794.5,181.9 800.4,185.2 806.3,185.4 812.2,184.2 819.3,187.8 828.7,187.8 835.8,191.8 842.9,194.8 851.1,197.0 859.4,202.4 866.5,205.9 873.6,210.2 878.3,215.4 883.0,223.6 884.2,225.0 892.4,230.2 899.5,235.6 906.6,242.0 912.5,242.0 918.4,245.8 925.5,249.3 931.4,252.1 936.1,248.1 940.8,247.9 945.6,253.3 950.3,256.9 956.2,259.2 965.6,262.8 972.7,263.2 979.8,268.7 986.9,267.0 992.8,267.0 998.7,269.8 1003.4,274.6 1009.3,278.1 1015.2,278.8 1022.3,279.3 1027.0,278.6 1032.9,280.9 1040.0,285.2 1045.9,285.2 1050.6,281.6 1055.8,277.4" fill="none" stroke="#ff0000" stroke-width="3" stroke-linejoin="round"/>
<polyline points="188.5,478.1 190.9,478.8 194.0,471.0 196.8,474.1 199.6,470.1 202.7,459.9 205.8,462.3 208.6,471.0 211.4,465.8 215.2,455.2 218.0,462.3 221.1,458.3 223.9,458.3 227.0,474.1 229.8,470.1 232.9,464.6 235.7,463.4 239.3,455.2 242.1,461.1 245.2,462.3 248.3,461.1 251.1,469.3 254.2,467.0 257.0,474.1 260.1,465.8 262.9,468.2 266.4,474.1 270.0,479.5 272.8,484.2 275.9,484.7 279.4,488.2 282.5,492.9 285.3,498.1 288.8,495.3 291.7,492.2 294.3,495.3 297.1,491.3 299.9,505.9 303.0,506.4 306.1,500.0 308.9,500.0 312.0,497.7 314.8,501.2 317.6,504.7 320.0,504.7 323.8,489.4 326.6,496.5 329.4,501.2 333.2,510.6 336.1,505.5 339.1,503.6 342.0,510.6 345.0,509.5 347.9,505.9 350.9,505.9 353.8,492.9 356.8,504.7 359.7,501.2 362.5,494.1 365.6,496.5 369.1,488.2 371.9,494.1 375.0,497.7 378.1,490.6 380.9,491.8 390.3,491.8 393.2,503.6 396.2,504.7 399.3,512.5 402.1,512.5 405.0,508.3 408.0,505.9 412.0,511.1 415.1,509.5 418.7,505.5 421.7,508.3 424.6,507.1 426.9,497.0 430.0,504.7 432.8,504.7 435.6,498.8 438.7,498.8 442.3,508.3 445.3,503.1 451.2,502.4 454.1,503.6 457.1,505.5 460.0,495.3 463.0,494.1 465.9,489.4 468.9,491.8 471.8,490.6 474.8,492.9 475.0,492.9 478.5,482.3 483.3,470.5 488.0,463.4 492.7,454.5 497.4,458.7 499.8,456.8 502.8,464.6 505.7,451.6 508.0,442.2 511.6,471.7 514.7,469.3 517.5,451.6 520.6,478.8 523.4,474.1 526.5,485.9 529.3,494.1 532.4,501.7 535.2,494.1 538.3,489.4 541.1,495.3 544.2,478.8 547.0,478.1 550.1,480.4 554.1,481.1 557.1,467.0 560.0,472.9 563.5,472.9 569.4,445.0 572.2,448.1 575.3,440.3 578.4,448.8 581.2,439.8 584.3,425.7 587.1,432.8 590.2,450.5 593.7,468.6 596.5,462.3 598.9,456.8 602.0,456.4 606.0,471.0 608.3,471.0 611.4,454.0 614.2,469.3 617.3,451.6 620.1,465.8 623.2,474.8 626.1,459.9 629.1,433.9 632.0,461.1 635.0,448.8 637.9,496.5 640.2,485.9 643.0,488.2 647.3,494.1 650.8,494.1 653.2,494.6 656.3,489.4 659.1,488.9 662.2,482.3 665.0,484.2 668.1,470.5 670.9,484.7 674.0,485.9 676.8,494.1 679.9,480.0 682.7,483.5 686.2,510.6 689.3,494.1 692.1,468.2 696.4,456.8 699.2,462.3 702.8,476.4 705.1,475.2 708.2,492.9 711.0,461.1 714.1,462.3 716.9,452.8 720.0,451.6 722.8,468.2 725.9,472.4 728.7,464.6 731.8,465.8 734.6,458.7 738.2,454.0 741.2,445.0 744.1,494.1 747.6,472.9 750.0,458.7 753.0,458.7 755.9,465.8 759.4,498.8 762.5,496.0 765.3,496.5 768.5,498.8 771.6,497.7 774.4,463.4 777.3,484.7 780.3,457.5 783.4,475.2 786.2,488.2 789.3,439.8 792.1,465.8 795.2,451.6 798.0,465.8 801.1,480.0 803.9,481.9 807.0,503.6 809.8,489.4 812.9,485.9 815.7,496.5 818.8,487.0 822.4,475.2 825.2,475.2 828.3,456.4 831.1,461.1 834.2,476.4 837.0,478.8 840.1,491.8 844.1,507.1 847.1,491.3 850.0,495.3 853.0,510.2 855.9,504.7 859.4,503.6 862.5,496.5 865.3,491.8 868.8,491.3 871.9,496.5 874.7,504.7 877.8,506.4 883.0,504.7 886.1,510.6 888.9,511.8 892.4,511.8 895.5,514.2 898.3,515.4 901.9,518.2 904.2,515.8 907.3,518.2 910.1,508.3 913.2,504.0 916.1,497.7 919.1,498.8 922.0,509.5 925.0,516.5 927.9,519.6 930.9,516.5 933.8,515.8 939.7,515.8 943.2,522.4 946.3,517.7 949.1,513.5 952.2,514.2 955.0,517.3 958.5,517.7 961.6,516.5 964.4,512.5 967.5,509.5 970.3,505.9 973.4,519.6 976.2,522.4 979.3,530.7 982.1,530.0 985.2,523.6 988.0,520.1 991.1,524.8 995.1,530.7 998.7,526.0 1001.7,524.8 1004.6,530.7 1007.6,529.5 1010.5,526.0 1013.5,526.0 1016.4,529.5 1019.4,522.4 1022.3,527.2 1025.3,531.4 1028.2,531.4 1031.2,528.3 1034.1,523.6 1037.1,518.9 1040.0,515.8 1043.0,514.2 1045.9,507.8 1048.9,504.7 1051.8,510.6 1055.8,511.1" fill="none" stroke="#000000" stroke-width="2" stroke-linejoin="round"/>
<rect x="187" y="75" width="872" height="2" fill="#808080"/>
<rect x="187" y="75" width="2" height="462" fill="#808080"/>
<rect x="187" y="535" width="872" height="2" fill="#808080"/>
<line x1="1055.5" y1="77" x2="1055.5" y2="535" stroke="#808080" stroke-width="1"/>
<rect x="1057" y="75" width="2" height="466" fill="#808080"/>
<line x1="189" y1="535.5" x2="1056" y2="535.5" stroke="#00ffff" stroke-width="1" stroke-dasharray="1 2"/>
<rect x="418" y="532" width="2" height="13" fill="#ffff00"/>
<rect x="904" y="532" width="2" height="13" fill="#ffff00"/>
<line x1="188.5" y1="537" x2="188.5" y2="541" stroke="#808080" stroke-width="1"/>
<line x1="224.5" y1="537" x2="224.5" y2="541" stroke="#808080" stroke-width="1"/>
<line x1="260.5" y1="537" x2="260.5" y2="541" stroke="#808080" stroke-width="1"/>
<line x1="297.5" y1="537" x2="297.5" y2="541" stroke="#808080" stroke-width="1"/>
<line x1="333.5" y1="537" x2="333.5" y2="541" stroke="#808080" stroke-width="1"/>
<line x1="369.5" y1="537" x2="369.5" y2="541" stroke="#808080" stroke-width="1"/>
<line x1="406.5" y1="537" x2="406.5" y2="541" stroke="#808080" stroke-width="1"/>
<line x1="442.5" y1="537" x2="442.5" y2="541" stroke="#808080" stroke-width="1"/>
<line x1="478.5" y1="537" x2="478.5" y2="541" stroke="#808080" stroke-width="1"/>
<line x1="514.5" y1="537" x2="514.5" y2="541" stroke="#808080" stroke-width="1"/>
<line x1="550.5" y1="537" x2="550.5" y2="541" stroke="#808080" stroke-width="1"/>
<line x1="587.5" y1="537" x2="587.5" y2="541" stroke="#808080" stroke-width="1"/>
<line x1="623.5" y1="537" x2="623.5" y2="541" stroke="#808080" stroke-width="1"/>
<line x1="659.5" y1="537" x2="659.5" y2="541" stroke="#808080" stroke-width="1"/>
<line x1="696.5" y1="537" x2="696.5" y2="541" stroke="#808080" stroke-width="1"/>
<line x1="732.5" y1="537" x2="732.5" y2="541" stroke="#808080" stroke-width="1"/>
<line x1="768.5" y1="537" x2="768.5" y2="541" stroke="#808080" stroke-width="1"/>
<line x1="804.5" y1="537" x2="804.5" y2="541" stroke="#808080" stroke-width="1"/>
<line x1="840.5" y1="537" x2="840.5" y2="541" stroke="#808080" stroke-width="1"/>
<line x1="877.5" y1="537" x2="877.5" y2="541" stroke="#808080" stroke-width="1"/>
<line x1="913.5" y1="537" x2="913.5" y2="541" stroke="#808080" stroke-width="1"/>
<line x1="949.5" y1="537" x2="949.5" y2="541" stroke="#808080" stroke-width="1"/>
<line x1="986.5" y1="537" x2="986.5" y2="541" stroke="#808080" stroke-width="1"/>
<line x1="1022.5" y1="537" x2="1022.5" y2="541" stroke="#808080" stroke-width="1"/>
<line x1="1058.5" y1="537" x2="1058.5" y2="541" stroke="#808080" stroke-width="1"/>
<line x1="40.5" y1="76" x2="40.5" y2="537" stroke="#808080" stroke-width="1"/>
<line x1="36" y1="76.5" x2="40" y2="76.5" stroke="#808080" stroke-width="1"/>
<line x1="40" y1="76.5" x2="44" y2="76.5" stroke="#808080" stroke-width="1"/>
<line x1="36" y1="127.5" x2="40" y2="127.5" stroke="#808080" stroke-width="1"/>
<line x1="36" y1="178.5" x2="40" y2="178.5" stroke="#808080" stroke-width="1"/>
<line x1="36" y1="229.5" x2="40" y2="229.5" stroke="#808080" stroke-width="1"/>
<line x1="36" y1="280.5" x2="40" y2="280.5" stroke="#808080" stroke-width="1"/>
<line x1="36" y1="332.5" x2="40" y2="332.5" stroke="#808080" stroke-width="1"/>
<line x1="36" y1="383.5" x2="40" y2="383.5" stroke="#808080" stroke-width="1"/>
<line x1="36" y1="434.5" x2="40" y2="434.5" stroke="#808080" stroke-width="1"/>
<line x1="36" y1="485.5" x2="40" y2="485.5" stroke="#808080" stroke-width="1"/>
<line x1="36" y1="536.5" x2="40" y2="536.5" stroke="#808080" stroke-width="1"/>
<line x1="40" y1="536.5" x2="44" y2="536.5" stroke="#808080" stroke-width="1"/>
<line x1="77.5" y1="76" x2="77.5" y2="537" stroke="#808080" stroke-width="1"/>
<line x1="73" y1="76.5" x2="77" y2="76.5" stroke="#808080" stroke-width="1"/>
<line x1="77" y1="76.5" x2="81" y2="76.5" stroke="#808080" stroke-width="1"/>
<line x1="73" y1="99.5" x2="77" y2="99.5" stroke="#808080" stroke-width="1"/>
<line x1="73" y1="122.5" x2="77" y2="122.5" stroke="#808080" stroke-width="1"/>
<line x1="73" y1="145.5" x2="77" y2="145.5" stroke="#808080" stroke-width="1"/>
<line x1="73" y1="168.5" x2="77" y2="168.5" stroke="#808080" stroke-width="1"/>
<line x1="73" y1="191.5" x2="77" y2="191.5" stroke="#808080" stroke-width="1"/>
<line x1="73" y1="214.5" x2="77" y2="214.5" stroke="#808080" stroke-width="1"/>
<line x1="73" y1="237.5" x2="77" y2="237.5" stroke="#808080" stroke-width="1"/>
<line x1="73" y1="260.5" x2="77" y2="260.5" stroke="#808080" stroke-width="1"/>
<line x1="73" y1="283.5" x2="77" y2="283.5" stroke="#808080" stroke-width="1"/>
<line x1="73" y1="306.5" x2="77" y2="306.5" stroke="#808080" stroke-width="1"/>
<line x1="73" y1="329.5" x2="77" y2="329.5" stroke="#808080" stroke-width="1"/>
<line x1="73" y1="352.5" x2="77" y2="352.5" stroke="#808080" stroke-width="1"/>
<line x1="73" y1="375.5" x2="77" y2="375.5" stroke="#808080" stroke-width="1"/>
<line x1="73" y1="398.5" x2="77" y2="398.5" stroke="#808080" stroke-width="1"/>
<line x1="73" y1="421.5" x2="77" y2="421.5" stroke="#808080" stroke-width="1"/>
<line x1="73" y1="444.5" x2="77" y2="444.5" stroke="#808080" stroke-width="1"/>
<line x1="73" y1="467.5" x2="77" y2="467.5" stroke="#808080" stroke-width="1"/>
<line x1="73" y1="490.5" x2="77" y2="490.5" stroke="#808080" stroke-width="1"/>
<line x1="73" y1="513.5" x2="77" y2="513.5" stroke="#808080" stroke-width="1"/>
<line x1="73" y1="536.5" x2="77" y2="536.5" stroke="#808080" stroke-width="1"/>
<line x1="77" y1="536.5" x2="81" y2="536.5" stroke="#808080" stroke-width="1"/>
<line x1="114.5" y1="76" x2="114.5" y2="537" stroke="#808080" stroke-width="1"/>
<line x1="110" y1="76.5" x2="114" y2="76.5" stroke="#808080" stroke-width="1"/>
<line x1="114" y1="76.5" x2="118" y2="76.5" stroke="#808080" stroke-width="1"/>
<line x1="110" y1="168.5" x2="114" y2="168.5" stroke="#808080" stroke-width="1"/>
<line x1="110" y1="260.5" x2="114" y2="260.5" stroke="#808080" stroke-width="1"/>
<line x1="110" y1="352.5" x2="114" y2="352.5" stroke="#808080" stroke-width="1"/>
<line x1="110" y1="444.5" x2="114" y2="444.5" stroke="#808080" stroke-width="1"/>
<line x1="110" y1="536.5" x2="114" y2="536.5" stroke="#808080" stroke-width="1"/>
<line x1="114" y1="536.5" x2="118" y2="536.5" stroke="#808080" stroke-width="1"/>
<line x1="151.5" y1="76" x2="151.5" y2="537" stroke="#808080" stroke-width="1"/>
<line x1="147" y1="76.5" x2="151" y2="76.5" stroke="#808080" stroke-width="1"/>
<line x1="151" y1="76.5" x2="155" y2="76.5" stroke="#808080" stroke-width="1"/>
<line x1="147" y1="114.5" x2="151" y2="114.5" stroke="#808080" stroke-width="1"/>
<line x1="147" y1="153.5" x2="151" y2="153.5" stroke="#808080" stroke-width="1"/>
<line x1="147" y1="191.5" x2="151" y2="191.5" stroke="#808080" stroke-width="1"/>
<line x1="147" y1="229.5" x2="151" y2="229.5" stroke="#808080" stroke-width="1"/>
<line x1="147" y1="268.5" x2="151" y2="268.5" stroke="#808080" stroke-width="1"/>
<line x1="147" y1="306.5" x2="151" y2="306.5" stroke="#808080" stroke-width="1"/>
<line x1="147" y1="344.5" x2="151" y2="344.5" stroke="#808080" stroke-width="1"/>
<line x1="147" y1="383.5" x2="151" y2="383.5" stroke="#808080" stroke-width="1"/>
<line x1="147" y1="421.5" x2="151" y2="421.5" stroke="#808080" stroke-width="1"/>
<line x1="147" y1="459.5" x2="151" y2="459.5" stroke="#808080" stroke-width="1"/>
<line x1="147" y1="498.5" x2="151" y2="498.5" stroke="#808080" stroke-width="1"/>
<line x1="147" y1="536.5" x2="151" y2="536.5" stroke="#808080" stroke-width="1"/>
<line x1="151" y1="536.5" x2="155" y2="536.5" stroke="#808080" stroke-width="1"/>
<line x1="184" y1="76.5" x2="187" y2="76.5" stroke="#808080" stroke-width="1"/>
<line x1="184" y1="122.5" x2="187" y2="122.5" stroke="#808080" stroke-width="1"/>
<line x1="189" y1="122.5" x2="191" y2="122.5" stroke="#808080" stroke-width="1"/>
<line x1="184" y1="168.5" x2="187" y2="168.5" stroke="#808080" stroke-width="1"/>
<line x1="189" y1="168.5" x2="191" y2="168.5" stroke="#808080" stroke-width="1"/>
<line x1="184" y1="214.5" x2="187" y2="214.5" stroke="#808080" stroke-width="1"/>
<line x1="189" y1="214.5" x2="191" y2="214.5" stroke="#808080" stroke-width="1"/>
<line x1="184" y1="260.5" x2="187" y2="260.5" stroke="#808080" stroke-width="1"/>
<line x1="189" y1="260.5" x2="191" y2="260.5" stroke="#808080" stroke-width="1"/>
<line x1="184" y1="306.5" x2="187" y2="306.5" stroke="#808080" stroke-width="1"/>
<line x1="189" y1="306.5" x2="191" y2="306.5" stroke="#808080" stroke-width="1"/>
<line x1="184" y1="352.5" x2="187" y2="352.5" stroke="#808080" stroke-width="1"/>
<line x1="189" y1="352.5" x2="191" y2="352.5" stroke="#808080" stroke-width="1"/>
<line x1="184" y1="398.5" x2="187" y2="398.5" stroke="#808080" stroke-width="1"/>
<line x1="189" y1="398.5" x2="191" y2="398.5" stroke="#808080" stroke-width="1"/>
<line x1="184" y1="444.5" x2="187" y2="444.5" stroke="#808080" stroke-width="1"/>
<line x1="189" y1="444.5" x2="191" y2="444.5" stroke="#808080" stroke-width="1"/>
<line x1="184" y1="490.5" x2="187" y2="490.5" stroke="#808080" stroke-width="1"/>
<line x1="189" y1="490.5" x2="191" y2="490.5" stroke="#808080" stroke-width="1"/>
<line x1="184" y1="536.5" x2="187" y2="536.5" stroke="#808080" stroke-width="1"/>
<line x1="1059" y1="76.5" x2="1062" y2="76.5" stroke="#808080" stroke-width="1"/>
<line x1="1059" y1="122.5" x2="1062" y2="122.5" stroke="#808080" stroke-width="1"/>
<line x1="1059" y1="168.5" x2="1062" y2="168.5" stroke="#808080" stroke-width="1"/>
<line x1="1059" y1="214.5" x2="1062" y2="214.5" stroke="#808080" stroke-width="1"/>
<line x1="1059" y1="260.5" x2="1062" y2="260.5" stroke="#808080" stroke-width="1"/>
<line x1="1059" y1="306.5" x2="1062" y2="306.5" stroke="#808080" stroke-width="1"/>
<line x1="1059" y1="352.5" x2="1062" y2="352.5" stroke="#808080" stroke-width="1"/>
<line x1="1059" y1="398.5" x2="1062" y2="398.5" stroke="#808080" stroke-width="1"/>
<line x1="1059" y1="444.5" x2="1062" y2="444.5" stroke="#808080" stroke-width="1"/>
<line x1="1059" y1="490.5" x2="1062" y2="490.5" stroke="#808080" stroke-width="1"/>
<line x1="1059" y1="536.5" x2="1062" y2="536.5" stroke="#808080" stroke-width="1"/>
<line x1="1095.5" y1="76" x2="1095.5" y2="537" stroke="#808080" stroke-width="1"/>
<line x1="1096" y1="76.5" x2="1100" y2="76.5" stroke="#808080" stroke-width="1"/>
<line x1="1091" y1="76.5" x2="1095" y2="76.5" stroke="#808080" stroke-width="1"/>
<line x1="1096" y1="134.5" x2="1100" y2="134.5" stroke="#808080" stroke-width="1"/>
<line x1="1096" y1="191.5" x2="1100" y2="191.5" stroke="#808080" stroke-width="1"/>
<line x1="1096" y1="248.5" x2="1100" y2="248.5" stroke="#808080" stroke-width="1"/>
<line x1="1096" y1="306.5" x2="1100" y2="306.5" stroke="#808080" stroke-width="1"/>
<line x1="1096" y1="364.5" x2="1100" y2="364.5" stroke="#808080" stroke-width="1"/>
<line x1="1096" y1="421.5" x2="1100" y2="421.5" stroke="#808080" stroke-width="1"/>
<line x1="1096" y1="478.5" x2="1100" y2="478.5" stroke="#808080" stroke-width="1"/>
<line x1="1096" y1="536.5" x2="1100" y2="536.5" stroke="#808080" stroke-width="1"/>
<line x1="1091" y1="536.5" x2="1095" y2="536.5" stroke="#808080" stroke-width="1"/>
<line x1="1132.5" y1="76" x2="1132.5" y2="537" stroke="#808080" stroke-width="1"/>
<line x1="1133" y1="76.5" x2="1137" y2="76.5" stroke="#808080" stroke-width="1"/>
<line x1="1128" y1="76.5" x2="1132" y2="76.5" stroke="#808080" stroke-width="1"/>
<line x1="1133" y1="114.5" x2="1137" y2="114.5" stroke="#808080" stroke-width="1"/>
<line x1="1133" y1="153.5" x2="1137" y2="153.5" stroke="#808080" stroke-width="1"/>
<line x1="1133" y1="191.5" x2="1137" y2="191.5" stroke="#808080" stroke-width="1"/>
<line x1="1133" y1="229.5" x2="1137" y2="229.5" stroke="#808080" stroke-width="1"/>
<line x1="1133" y1="268.5" x2="1137" y2="268.5" stroke="#808080" stroke-width="1"/>
<line x1="1133" y1="306.5" x2="1137" y2="306.5" stroke="#808080" stroke-width="1"/>
<line x1="1133" y1="344.5" x2="1137" y2="344.5" stroke="#808080" stroke-width="1"/>
<line x1="1133" y1="383.5" x2="1137" y2="383.5" stroke="#808080" stroke-width="1"/>
<line x1="1133" y1="421.5" x2="1137" y2="421.5" stroke="#808080" stroke-width="1"/>
<line x1="1133" y1="459.5" x2="1137" y2="459.5" stroke="#808080" stroke-width="1"/>
<line x1="1133" y1="498.5" x2="1137" y2="498.5" stroke="#808080" stroke-width="1"/>
<line x1="1133" y1="536.5" x2="1137" y2="536.5" stroke="#808080" stroke-width="1"/>
<line x1="1128" y1="536.5" x2="1132" y2="536.5" stroke="#808080" stroke-width="1"/>
<line x1="1169.5" y1="76" x2="1169.5" y2="537" stroke="#808080" stroke-width="1"/>
<line x1="1170" y1="76.5" x2="1174" y2="76.5" stroke="#808080" stroke-width="1"/>
<line x1="1165" y1="76.5" x2="1169" y2="76.5" stroke="#808080" stroke-width="1"/>
<line x1="1170" y1="122.5" x2="1174" y2="122.5" stroke="#808080" stroke-width="1"/>
<line x1="1170" y1="168.5" x2="1174" y2="168.5" stroke="#808080" stroke-width="1"/>
<line x1="1170" y1="214.5" x2="1174" y2="214.5" stroke="#808080" stroke-width="1"/>
<line x1="1170" y1="260.5" x2="1174" y2="260.5" stroke="#808080" stroke-width="1"/>
<line x1="1170" y1="306.5" x2="1174" y2="306.5" stroke="#808080" stroke-width="1"/>
<line x1="1170" y1="352.5" x2="1174" y2="352.5" stroke="#808080" stroke-width="1"/>
<line x1="1170" y1="398.5" x2="1174" y2="398.5" stroke="#808080" stroke-width="1"/>
<line x1="1170" y1="444.5" x2="1174" y2="444.5" stroke="#808080" stroke-width="1"/>
<line x1="1170" y1="490.5" x2="1174" y2="490.5" stroke="#808080" stroke-width="1"/>
<line x1="1170" y1="536.5" x2="1174" y2="536.5" stroke="#808080" stroke-width="1"/>
<line x1="1165" y1="536.5" x2="1169" y2="536.5" stroke="#808080" stroke-width="1"/>
<line x1="1206.5" y1="76" x2="1206.5" y2="537" stroke="#808080" stroke-width="1"/>
<line x1="1207" y1="76.5" x2="1211" y2="76.5" stroke="#808080" stroke-width="1"/>
<line x1="1202" y1="76.5" x2="1206" y2="76.5" stroke="#808080" stroke-width="1"/>
<line x1="1207" y1="95.5" x2="1211" y2="95.5" stroke="#808080" stroke-width="1"/>
<line x1="1207" y1="114.5" x2="1211" y2="114.5" stroke="#808080" stroke-width="1"/>
<line x1="1207" y1="134.5" x2="1211" y2="134.5" stroke="#808080" stroke-width="1"/>
<line x1="1207" y1="153.5" x2="1211" y2="153.5" stroke="#808080" stroke-width="1"/>
<line x1="1207" y1="172.5" x2="1211" y2="172.5" stroke="#808080" stroke-width="1"/>
<line x1="1207" y1="191.5" x2="1211" y2="191.5" stroke="#808080" stroke-width="1"/>
<line x1="1207" y1="210.5" x2="1211" y2="210.5" stroke="#808080" stroke-width="1"/>
<line x1="1207" y1="229.5" x2="1211" y2="229.5" stroke="#808080" stroke-width="1"/>
<line x1="1207" y1="248.5" x2="1211" y2="248.5" stroke="#808080" stroke-width="1"/>
<line x1="1207" y1="268.5" x2="1211" y2="268.5" stroke="#808080" stroke-width="1"/>
<line x1="1207" y1="287.5" x2="1211" y2="287.5" stroke="#808080" stroke-width="1"/>
<line x1="1207" y1="306.5" x2="1211" y2="306.5" stroke="#808080" stroke-width="1"/>
<line x1="1207" y1="325.5" x2="1211" y2="325.5" stroke="#808080" stroke-width="1"/>
<line x1="1207" y1="344.5" x2="1211" y2="344.5" stroke="#808080" stroke-width="1"/>
<line x1="1207" y1="364.5" x2="1211" y2="364.5" stroke="#808080" stroke-width="1"/>
<line x1="1207" y1="383.5" x2="1211" y2="383.5" stroke="#808080" stroke-width="1"/>
<line x1="1207" y1="402.5" x2="1211" y2="402.5" stroke="#808080" stroke-width="1"/>
<line x1="1207" y1="421.5" x2="1211" y2="421.5" stroke="#808080" stroke-width="1"/>
<line x1="1207" y1="440.5" x2="1211" y2="440.5" stroke="#808080" stroke-width="1"/>
<line x1="1207" y1="459.5" x2="1211" y2="459.5" stroke="#808080" stroke-width="1"/>
<line x1="1207" y1="478.5" x2="1211" y2="478.5" stroke="#808080" stroke-width="1"/>
<line x1="1207" y1="498.5" x2="1211" y2="498.5" stroke="#808080" stroke-width="1"/>
<line x1="1207" y1="517.5" x2="1211" y2="517.5" stroke="#808080" stroke-width="1"/>
<line x1="1207" y1="536.5" x2="1211" y2="536.5" stroke="#808080" stroke-width="1"/>
<line x1="1202" y1="536.5" x2="1206" y2="536.5" stroke="#808080" stroke-width="1"/>
<rect x="198" y="33" width="10" height="10" fill="#000"/>
<rect x="199" y="34" width="8" height="8" fill="#ff0000"/>
<rect x="293" y="33" width="10" height="10" fill="#000"/>
<rect x="294" y="34" width="8" height="8" fill="#ff8000"/>
<rect x="388" y="33" width="10" height="10" fill="#000"/>
<rect x="389" y="34" width="8" height="8" fill="#ff0000"/>
<rect x="483" y="33" width="10" height="10" fill="#000"/>
<rect x="484" y="34" width="8" height="8" fill="#ff0000"/>
<rect x="578" y="33" width="10" height="10" fill="#000"/>
<rect x="579" y="34" width="8" height="8" fill="#ff0000"/>
<rect x="673" y="33" width="10" height="10" fill="#000"/>
<rect x="674" y="34" width="8" height="8" fill="#ff0000"/>
<rect x="768" y="33" width="10" height="10" fill="#000"/>
<rect x="769" y="34" width="8" height="8" fill="#0000ff"/>
<rect x="863" y="33" width="10" height="10" fill="#000"/>
<rect x="864" y="34" width="8" height="8" fill="#0000ff"/>
<rect x="958" y="33" width="10" height="10" fill="#000"/>
<rect x="959" y="34" width="8" height="8" fill="#0000ff"/>
<rect x="198" y="47" width="10" height="10" fill="#000"/>
<rect x="199" y="48" width="8" height="8" fill="#0000ff"/>
<rect x="293" y="47" width="10" height="10" fill="#000"/>
<rect x="294" y="48" width="8" height="8" fill="#0000ff"/>
<rect x="388" y="47" width="10" height="10" fill="#000"/>
<rect x="389" y="48" width="8" height="8" fill="#00ff00"/>
<rect x="483" y="47" width="10" height="10" fill="#000"/>
<rect x="484" y="48" width="8" height="8" fill="#00ffff"/>
<rect x="578" y="47" width="10" height="10" fill="#000"/>
<rect x="579" y="48" width="8" height="8" fill="#000000"/>
<rect x="673" y="47" width="10" height="10" fill="#000"/>
<rect x="674" y="48" width="8" height="8" fill="#808080"/>
<rect x="768" y="47" width="10" height="10" fill="#000"/>
<rect x="769" y="48" width="8" height="8" fill="#ffff00"/>
<rect x="863" y="47" width="10" height="10" fill="#000"/>
<rect x="864" y="48" width="8" height="8" fill="#ff00ff"/>
<rect x="958" y="47" width="10" height="10" fill="#000"/>
<rect x="959" y="48" width="8" height="8" fill="#ff8080"/>
<rect x="198" y="61" width="10" height="10" fill="#000"/>
<rect x="199" y="62" width="8" height="8" fill="#000080"/>
<g shape-rendering="auto"><circle cx="419.5" cy="562.3" r="3.4" fill="#ffff00"/><circle cx="419.5" cy="562.3" r="5.5" fill="none" stroke="#ffff80" stroke-width="1.2" stroke-dasharray="2 2"/><rect x="902.5" y="559.5" width="5" height="5" rx="1" fill="none" stroke="#ffff50" stroke-width="1"/></g>
<rect x="1" y="573" width="1249" height="68" fill="#ccfaf5"/>
<line x1="87.5" y1="573" x2="87.5" y2="641" stroke="#ffffff" stroke-width="1"/>
<line x1="88.5" y1="573" x2="88.5" y2="641" stroke="#7c7c7c" stroke-width="1"/>
<line x1="89.5" y1="573" x2="89.5" y2="641" stroke="#e2fdfa" stroke-width="1"/>
<line x1="204.5" y1="573" x2="204.5" y2="641" stroke="#ffffff" stroke-width="1"/>
<line x1="205.5" y1="573" x2="205.5" y2="641" stroke="#7c7c7c" stroke-width="1"/>
<line x1="206.5" y1="573" x2="206.5" y2="641" stroke="#e2fdfa" stroke-width="1"/>
<line x1="322.5" y1="573" x2="322.5" y2="641" stroke="#ffffff" stroke-width="1"/>
<line x1="323.5" y1="573" x2="323.5" y2="641" stroke="#7c7c7c" stroke-width="1"/>
<line x1="324.5" y1="573" x2="324.5" y2="641" stroke="#e2fdfa" stroke-width="1"/>
<line x1="440.5" y1="573" x2="440.5" y2="641" stroke="#ffffff" stroke-width="1"/>
<line x1="441.5" y1="573" x2="441.5" y2="641" stroke="#7c7c7c" stroke-width="1"/>
<line x1="442.5" y1="573" x2="442.5" y2="641" stroke="#e2fdfa" stroke-width="1"/>
<line x1="558.5" y1="573" x2="558.5" y2="641" stroke="#ffffff" stroke-width="1"/>
<line x1="559.5" y1="573" x2="559.5" y2="641" stroke="#7c7c7c" stroke-width="1"/>
<line x1="560.5" y1="573" x2="560.5" y2="641" stroke="#e2fdfa" stroke-width="1"/>
<line x1="676.5" y1="573" x2="676.5" y2="641" stroke="#ffffff" stroke-width="1"/>
<line x1="677.5" y1="573" x2="677.5" y2="641" stroke="#7c7c7c" stroke-width="1"/>
<line x1="678.5" y1="573" x2="678.5" y2="641" stroke="#e2fdfa" stroke-width="1"/>
<line x1="794.5" y1="573" x2="794.5" y2="641" stroke="#ffffff" stroke-width="1"/>
<line x1="795.5" y1="573" x2="795.5" y2="641" stroke="#7c7c7c" stroke-width="1"/>
<line x1="796.5" y1="573" x2="796.5" y2="641" stroke="#e2fdfa" stroke-width="1"/>
<line x1="912.5" y1="573" x2="912.5" y2="641" stroke="#ffffff" stroke-width="1"/>
<line x1="913.5" y1="573" x2="913.5" y2="641" stroke="#7c7c7c" stroke-width="1"/>
<line x1="914.5" y1="573" x2="914.5" y2="641" stroke="#e2fdfa" stroke-width="1"/>
<line x1="1248.5" y1="573" x2="1248.5" y2="641" stroke="#ffffff" stroke-width="1"/>
<line x1="1249.5" y1="573" x2="1249.5" y2="641" stroke="#7c7c7c" stroke-width="1"/>
<line x1="1250.5" y1="573" x2="1250.5" y2="641" stroke="#e2fdfa" stroke-width="1"/>
<defs><filter id="nf" x="0" y="0" width="100%" height="100%" filterUnits="userSpaceOnUse" color-interpolation-filters="sRGB"><feOffset dx="0" dy="0"/></filter></defs>
<g filter="url(#nf)"><text x="627" y="21" font-size="16px" text-anchor="middle" fill="#000">Sonntag, 07.04.2024</text>
<text x="175.2" y="555.0" fill="#000" stroke="#000" stroke-width="0.16" textLength="26.6" lengthAdjust="spacingAndGlyphs" xml:space="preserve">00:00</text>
<text x="211.2" y="555.0" fill="#000" stroke="#000" stroke-width="0.16" textLength="26.6" lengthAdjust="spacingAndGlyphs" xml:space="preserve">01:00</text>
<text x="247.2" y="555.0" fill="#000" stroke="#000" stroke-width="0.16" textLength="26.6" lengthAdjust="spacingAndGlyphs" xml:space="preserve">02:00</text>
<text x="284.2" y="555.0" fill="#000" stroke="#000" stroke-width="0.16" textLength="26.6" lengthAdjust="spacingAndGlyphs" xml:space="preserve">03:00</text>
<text x="320.2" y="555.0" fill="#000" stroke="#000" stroke-width="0.16" textLength="26.6" lengthAdjust="spacingAndGlyphs" xml:space="preserve">04:00</text>
<text x="356.2" y="555.0" fill="#000" stroke="#000" stroke-width="0.16" textLength="26.6" lengthAdjust="spacingAndGlyphs" xml:space="preserve">05:00</text>
<text x="393.2" y="555.0" fill="#000" stroke="#000" stroke-width="0.16" textLength="26.6" lengthAdjust="spacingAndGlyphs" xml:space="preserve">06:00</text>
<text x="429.2" y="555.0" fill="#000" stroke="#000" stroke-width="0.16" textLength="26.6" lengthAdjust="spacingAndGlyphs" xml:space="preserve">07:00</text>
<text x="465.2" y="555.0" fill="#000" stroke="#000" stroke-width="0.16" textLength="26.6" lengthAdjust="spacingAndGlyphs" xml:space="preserve">08:00</text>
<text x="501.2" y="555.0" fill="#000" stroke="#000" stroke-width="0.16" textLength="26.6" lengthAdjust="spacingAndGlyphs" xml:space="preserve">09:00</text>
<text x="537.2" y="555.0" fill="#000" stroke="#000" stroke-width="0.16" textLength="26.6" lengthAdjust="spacingAndGlyphs" xml:space="preserve">10:00</text>
<text x="574.2" y="555.0" fill="#000" stroke="#000" stroke-width="0.16" textLength="26.6" lengthAdjust="spacingAndGlyphs" xml:space="preserve">11:00</text>
<text x="610.2" y="555.0" fill="#000" stroke="#000" stroke-width="0.16" textLength="26.6" lengthAdjust="spacingAndGlyphs" xml:space="preserve">12:00</text>
<text x="646.2" y="555.0" fill="#000" stroke="#000" stroke-width="0.16" textLength="26.6" lengthAdjust="spacingAndGlyphs" xml:space="preserve">13:00</text>
<text x="683.2" y="555.0" fill="#000" stroke="#000" stroke-width="0.16" textLength="26.6" lengthAdjust="spacingAndGlyphs" xml:space="preserve">14:00</text>
<text x="719.2" y="555.0" fill="#000" stroke="#000" stroke-width="0.16" textLength="26.6" lengthAdjust="spacingAndGlyphs" xml:space="preserve">15:00</text>
<text x="755.2" y="555.0" fill="#000" stroke="#000" stroke-width="0.16" textLength="26.6" lengthAdjust="spacingAndGlyphs" xml:space="preserve">16:00</text>
<text x="791.2" y="555.0" fill="#000" stroke="#000" stroke-width="0.16" textLength="26.6" lengthAdjust="spacingAndGlyphs" xml:space="preserve">17:00</text>
<text x="827.2" y="555.0" fill="#000" stroke="#000" stroke-width="0.16" textLength="26.6" lengthAdjust="spacingAndGlyphs" xml:space="preserve">18:00</text>
<text x="864.2" y="555.0" fill="#000" stroke="#000" stroke-width="0.16" textLength="26.6" lengthAdjust="spacingAndGlyphs" xml:space="preserve">19:00</text>
<text x="900.2" y="555.0" fill="#000" stroke="#000" stroke-width="0.16" textLength="26.6" lengthAdjust="spacingAndGlyphs" xml:space="preserve">20:00</text>
<text x="936.2" y="555.0" fill="#000" stroke="#000" stroke-width="0.16" textLength="26.6" lengthAdjust="spacingAndGlyphs" xml:space="preserve">21:00</text>
<text x="973.2" y="555.0" fill="#000" stroke="#000" stroke-width="0.16" textLength="26.6" lengthAdjust="spacingAndGlyphs" xml:space="preserve">22:00</text>
<text x="1009.2" y="555.0" fill="#000" stroke="#000" stroke-width="0.16" textLength="26.6" lengthAdjust="spacingAndGlyphs" xml:space="preserve">23:00</text>
<text x="1045.2" y="555.0" fill="#000" stroke="#000" stroke-width="0.16" textLength="26.6" lengthAdjust="spacingAndGlyphs" xml:space="preserve">24:00</text>
<text x="13.4" y="81.0" fill="#ff0000" stroke="#ff0000" stroke-width="0.16" textLength="20.6" lengthAdjust="spacingAndGlyphs" xml:space="preserve">35.0</text>
<text x="13.4" y="132.0" fill="#ff0000" stroke="#ff0000" stroke-width="0.16" textLength="20.6" lengthAdjust="spacingAndGlyphs" xml:space="preserve">30.0</text>
<text x="13.4" y="183.0" fill="#ff0000" stroke="#ff0000" stroke-width="0.16" textLength="20.6" lengthAdjust="spacingAndGlyphs" xml:space="preserve">25.0</text>
<text x="13.4" y="234.0" fill="#ff0000" stroke="#ff0000" stroke-width="0.16" textLength="20.6" lengthAdjust="spacingAndGlyphs" xml:space="preserve">20.0</text>
<text x="13.4" y="285.0" fill="#ff0000" stroke="#ff0000" stroke-width="0.16" textLength="20.6" lengthAdjust="spacingAndGlyphs" xml:space="preserve">15.0</text>
<text x="13.4" y="337.0" fill="#ff0000" stroke="#ff0000" stroke-width="0.16" textLength="20.6" lengthAdjust="spacingAndGlyphs" xml:space="preserve">10.0</text>
<text x="19.4" y="388.0" fill="#ff0000" stroke="#ff0000" stroke-width="0.16" textLength="14.6" lengthAdjust="spacingAndGlyphs" xml:space="preserve">5.0</text>
<text x="19.4" y="439.0" fill="#ff0000" stroke="#ff0000" stroke-width="0.16" textLength="14.6" lengthAdjust="spacingAndGlyphs" xml:space="preserve">0.0</text>
<text x="16.4" y="490.0" fill="#ff0000" stroke="#ff0000" stroke-width="0.16" textLength="17.6" lengthAdjust="spacingAndGlyphs" xml:space="preserve">-5.0</text>
<text x="10.4" y="541.0" fill="#ff0000" stroke="#ff0000" stroke-width="0.16" textLength="23.6" lengthAdjust="spacingAndGlyphs" xml:space="preserve">-10.0</text>
<text x="53.4" y="81.0" fill="#0000ff" stroke="#0000ff" stroke-width="0.16" textLength="17.6" lengthAdjust="spacingAndGlyphs" xml:space="preserve">200</text>
<text x="53.4" y="104.0" fill="#0000ff" stroke="#0000ff" stroke-width="0.16" textLength="17.6" lengthAdjust="spacingAndGlyphs" xml:space="preserve">190</text>
<text x="53.4" y="127.0" fill="#0000ff" stroke="#0000ff" stroke-width="0.16" textLength="17.6" lengthAdjust="spacingAndGlyphs" xml:space="preserve">180</text>
<text x="53.4" y="150.0" fill="#0000ff" stroke="#0000ff" stroke-width="0.16" textLength="17.6" lengthAdjust="spacingAndGlyphs" xml:space="preserve">170</text>
<text x="53.4" y="173.0" fill="#0000ff" stroke="#0000ff" stroke-width="0.16" textLength="17.6" lengthAdjust="spacingAndGlyphs" xml:space="preserve">160</text>
<text x="53.4" y="196.0" fill="#0000ff" stroke="#0000ff" stroke-width="0.16" textLength="17.6" lengthAdjust="spacingAndGlyphs" xml:space="preserve">150</text>
<text x="53.4" y="219.0" fill="#0000ff" stroke="#0000ff" stroke-width="0.16" textLength="17.6" lengthAdjust="spacingAndGlyphs" xml:space="preserve">140</text>
<text x="53.4" y="242.0" fill="#0000ff" stroke="#0000ff" stroke-width="0.16" textLength="17.6" lengthAdjust="spacingAndGlyphs" xml:space="preserve">130</text>
<text x="53.4" y="265.0" fill="#0000ff" stroke="#0000ff" stroke-width="0.16" textLength="17.6" lengthAdjust="spacingAndGlyphs" xml:space="preserve">120</text>
<text x="53.4" y="288.0" fill="#0000ff" stroke="#0000ff" stroke-width="0.16" textLength="17.6" lengthAdjust="spacingAndGlyphs" xml:space="preserve">110</text>
<text x="53.4" y="311.0" fill="#0000ff" stroke="#0000ff" stroke-width="0.16" textLength="17.6" lengthAdjust="spacingAndGlyphs" xml:space="preserve">100</text>
<text x="59.4" y="334.0" fill="#0000ff" stroke="#0000ff" stroke-width="0.16" textLength="11.6" lengthAdjust="spacingAndGlyphs" xml:space="preserve">90</text>
<text x="59.4" y="357.0" fill="#0000ff" stroke="#0000ff" stroke-width="0.16" textLength="11.6" lengthAdjust="spacingAndGlyphs" xml:space="preserve">80</text>
<text x="59.4" y="380.0" fill="#0000ff" stroke="#0000ff" stroke-width="0.16" textLength="11.6" lengthAdjust="spacingAndGlyphs" xml:space="preserve">70</text>
<text x="59.4" y="403.0" fill="#0000ff" stroke="#0000ff" stroke-width="0.16" textLength="11.6" lengthAdjust="spacingAndGlyphs" xml:space="preserve">60</text>
<text x="59.4" y="426.0" fill="#0000ff" stroke="#0000ff" stroke-width="0.16" textLength="11.6" lengthAdjust="spacingAndGlyphs" xml:space="preserve">50</text>
<text x="59.4" y="449.0" fill="#0000ff" stroke="#0000ff" stroke-width="0.16" textLength="11.6" lengthAdjust="spacingAndGlyphs" xml:space="preserve">40</text>
<text x="59.4" y="472.0" fill="#0000ff" stroke="#0000ff" stroke-width="0.16" textLength="11.6" lengthAdjust="spacingAndGlyphs" xml:space="preserve">30</text>
<text x="59.4" y="495.0" fill="#0000ff" stroke="#0000ff" stroke-width="0.16" textLength="11.6" lengthAdjust="spacingAndGlyphs" xml:space="preserve">20</text>
<text x="59.4" y="518.0" fill="#0000ff" stroke="#0000ff" stroke-width="0.16" textLength="11.6" lengthAdjust="spacingAndGlyphs" xml:space="preserve">10</text>
<text x="65.4" y="541.0" fill="#0000ff" stroke="#0000ff" stroke-width="0.16" textLength="5.6" lengthAdjust="spacingAndGlyphs" xml:space="preserve">0</text>
<text x="93.4" y="81.0" fill="#00ffff" stroke="#00ffff" stroke-width="0.16" textLength="14.6" lengthAdjust="spacingAndGlyphs" xml:space="preserve">5.0</text>
<text x="93.4" y="173.0" fill="#00ffff" stroke="#00ffff" stroke-width="0.16" textLength="14.6" lengthAdjust="spacingAndGlyphs" xml:space="preserve">4.0</text>
<text x="93.4" y="265.0" fill="#00ffff" stroke="#00ffff" stroke-width="0.16" textLength="14.6" lengthAdjust="spacingAndGlyphs" xml:space="preserve">3.0</text>
<text x="93.4" y="357.0" fill="#00ffff" stroke="#00ffff" stroke-width="0.16" textLength="14.6" lengthAdjust="spacingAndGlyphs" xml:space="preserve">2.0</text>
<text x="93.4" y="449.0" fill="#00ffff" stroke="#00ffff" stroke-width="0.16" textLength="14.6" lengthAdjust="spacingAndGlyphs" xml:space="preserve">1.0</text>
<text x="93.4" y="541.0" fill="#00ffff" stroke="#00ffff" stroke-width="0.16" textLength="14.6" lengthAdjust="spacingAndGlyphs" xml:space="preserve">0.0</text>
<text x="116.4" y="81.0" fill="#808080" stroke="#808080" stroke-width="0.16" textLength="28.6" lengthAdjust="spacingAndGlyphs" xml:space="preserve">360 N</text>
<text x="127.4" y="119.0" fill="#808080" stroke="#808080" stroke-width="0.16" textLength="17.6" lengthAdjust="spacingAndGlyphs" xml:space="preserve">330</text>
<text x="127.4" y="158.0" fill="#808080" stroke="#808080" stroke-width="0.16" textLength="17.6" lengthAdjust="spacingAndGlyphs" xml:space="preserve">300</text>
<text x="113.4" y="196.0" fill="#808080" stroke="#808080" stroke-width="0.16" textLength="31.6" lengthAdjust="spacingAndGlyphs" xml:space="preserve">270 W</text>
<text x="127.4" y="234.0" fill="#808080" stroke="#808080" stroke-width="0.16" textLength="17.6" lengthAdjust="spacingAndGlyphs" xml:space="preserve">240</text>
<text x="127.4" y="273.0" fill="#808080" stroke="#808080" stroke-width="0.16" textLength="17.6" lengthAdjust="spacingAndGlyphs" xml:space="preserve">210</text>
<text x="117.4" y="311.0" fill="#808080" stroke="#808080" stroke-width="0.16" textLength="27.6" lengthAdjust="spacingAndGlyphs" xml:space="preserve">180 S</text>
<text x="127.4" y="349.0" fill="#808080" stroke="#808080" stroke-width="0.16" textLength="17.6" lengthAdjust="spacingAndGlyphs" xml:space="preserve">150</text>
<text x="127.4" y="388.0" fill="#808080" stroke="#808080" stroke-width="0.16" textLength="17.6" lengthAdjust="spacingAndGlyphs" xml:space="preserve">120</text>
<text x="119.4" y="426.0" fill="#808080" stroke="#808080" stroke-width="0.16" textLength="25.6" lengthAdjust="spacingAndGlyphs" xml:space="preserve">90  O</text>
<text x="133.4" y="464.0" fill="#808080" stroke="#808080" stroke-width="0.16" textLength="11.6" lengthAdjust="spacingAndGlyphs" xml:space="preserve">60</text>
<text x="133.4" y="503.0" fill="#808080" stroke="#808080" stroke-width="0.16" textLength="11.6" lengthAdjust="spacingAndGlyphs" xml:space="preserve">30</text>
<text x="122.4" y="541.0" fill="#808080" stroke="#808080" stroke-width="0.16" textLength="22.6" lengthAdjust="spacingAndGlyphs" xml:space="preserve">0   N</text>
<text x="161.4" y="81.0" fill="#ff00ff" stroke="#ff00ff" stroke-width="0.16" textLength="20.6" lengthAdjust="spacingAndGlyphs" xml:space="preserve">10.0</text>
<text x="167.4" y="127.0" fill="#ff00ff" stroke="#ff00ff" stroke-width="0.16" textLength="14.6" lengthAdjust="spacingAndGlyphs" xml:space="preserve">9.0</text>
<text x="167.4" y="173.0" fill="#ff00ff" stroke="#ff00ff" stroke-width="0.16" textLength="14.6" lengthAdjust="spacingAndGlyphs" xml:space="preserve">8.0</text>
<text x="167.4" y="219.0" fill="#ff00ff" stroke="#ff00ff" stroke-width="0.16" textLength="14.6" lengthAdjust="spacingAndGlyphs" xml:space="preserve">7.0</text>
<text x="167.4" y="265.0" fill="#ff00ff" stroke="#ff00ff" stroke-width="0.16" textLength="14.6" lengthAdjust="spacingAndGlyphs" xml:space="preserve">6.0</text>
<text x="167.4" y="311.0" fill="#ff00ff" stroke="#ff00ff" stroke-width="0.16" textLength="14.6" lengthAdjust="spacingAndGlyphs" xml:space="preserve">5.0</text>
<text x="167.4" y="357.0" fill="#ff00ff" stroke="#ff00ff" stroke-width="0.16" textLength="14.6" lengthAdjust="spacingAndGlyphs" xml:space="preserve">4.0</text>
<text x="167.4" y="403.0" fill="#ff00ff" stroke="#ff00ff" stroke-width="0.16" textLength="14.6" lengthAdjust="spacingAndGlyphs" xml:space="preserve">3.0</text>
<text x="167.4" y="449.0" fill="#ff00ff" stroke="#ff00ff" stroke-width="0.16" textLength="14.6" lengthAdjust="spacingAndGlyphs" xml:space="preserve">2.0</text>
<text x="167.4" y="495.0" fill="#ff00ff" stroke="#ff00ff" stroke-width="0.16" textLength="14.6" lengthAdjust="spacingAndGlyphs" xml:space="preserve">1.0</text>
<text x="167.4" y="541.0" fill="#ff00ff" stroke="#ff00ff" stroke-width="0.16" textLength="14.6" lengthAdjust="spacingAndGlyphs" xml:space="preserve">0.0</text>
<text x="19.7" y="65.0" fill="#ff0000" stroke="#ff0000" stroke-width="0.16" textLength="10.6" lengthAdjust="spacingAndGlyphs" xml:space="preserve">°C</text>
<text x="55.7" y="65.0" fill="#0000ff" stroke="#0000ff" stroke-width="0.16" textLength="11.6" lengthAdjust="spacingAndGlyphs" xml:space="preserve">cb</text>
<text x="86.7" y="65.0" fill="#00ffff" stroke="#00ffff" stroke-width="0.16" textLength="17.6" lengthAdjust="spacingAndGlyphs" xml:space="preserve">l/m²</text>
<text x="137.7" y="64.0" fill="#808080" stroke="#808080" stroke-width="0.16" textLength="3.6" lengthAdjust="spacingAndGlyphs" xml:space="preserve">°</text>
<text x="157.2" y="65.0" fill="#ff00ff" stroke="#ff00ff" stroke-width="0.16" textLength="20.6" lengthAdjust="spacingAndGlyphs" xml:space="preserve">UV-I</text>
<text x="1064.0" y="81.0" fill="#0000ff" stroke="#0000ff" stroke-width="0.16" textLength="17.6" lengthAdjust="spacingAndGlyphs" xml:space="preserve">100</text>
<text x="1064.0" y="127.0" fill="#0000ff" stroke="#0000ff" stroke-width="0.16" textLength="11.6" lengthAdjust="spacingAndGlyphs" xml:space="preserve">90</text>
<text x="1064.0" y="173.0" fill="#0000ff" stroke="#0000ff" stroke-width="0.16" textLength="11.6" lengthAdjust="spacingAndGlyphs" xml:space="preserve">80</text>
<text x="1064.0" y="219.0" fill="#0000ff" stroke="#0000ff" stroke-width="0.16" textLength="11.6" lengthAdjust="spacingAndGlyphs" xml:space="preserve">70</text>
<text x="1064.0" y="265.0" fill="#0000ff" stroke="#0000ff" stroke-width="0.16" textLength="11.6" lengthAdjust="spacingAndGlyphs" xml:space="preserve">60</text>
<text x="1064.0" y="311.0" fill="#0000ff" stroke="#0000ff" stroke-width="0.16" textLength="11.6" lengthAdjust="spacingAndGlyphs" xml:space="preserve">50</text>
<text x="1064.0" y="357.0" fill="#0000ff" stroke="#0000ff" stroke-width="0.16" textLength="11.6" lengthAdjust="spacingAndGlyphs" xml:space="preserve">40</text>
<text x="1064.0" y="403.0" fill="#0000ff" stroke="#0000ff" stroke-width="0.16" textLength="11.6" lengthAdjust="spacingAndGlyphs" xml:space="preserve">30</text>
<text x="1064.0" y="449.0" fill="#0000ff" stroke="#0000ff" stroke-width="0.16" textLength="11.6" lengthAdjust="spacingAndGlyphs" xml:space="preserve">20</text>
<text x="1064.0" y="495.0" fill="#0000ff" stroke="#0000ff" stroke-width="0.16" textLength="11.6" lengthAdjust="spacingAndGlyphs" xml:space="preserve">10</text>
<text x="1064.0" y="541.0" fill="#0000ff" stroke="#0000ff" stroke-width="0.16" textLength="5.6" lengthAdjust="spacingAndGlyphs" xml:space="preserve">0</text>
<text x="1101.0" y="81.0" fill="#00ff00" stroke="#00ff00" stroke-width="0.16" textLength="23.6" lengthAdjust="spacingAndGlyphs" xml:space="preserve">1030</text>
<text x="1101.0" y="139.0" fill="#00ff00" stroke="#00ff00" stroke-width="0.16" textLength="23.6" lengthAdjust="spacingAndGlyphs" xml:space="preserve">1025</text>
<text x="1101.0" y="196.0" fill="#00ff00" stroke="#00ff00" stroke-width="0.16" textLength="23.6" lengthAdjust="spacingAndGlyphs" xml:space="preserve">1020</text>
<text x="1101.0" y="253.0" fill="#00ff00" stroke="#00ff00" stroke-width="0.16" textLength="23.6" lengthAdjust="spacingAndGlyphs" xml:space="preserve">1015</text>
<text x="1101.0" y="311.0" fill="#00ff00" stroke="#00ff00" stroke-width="0.16" textLength="23.6" lengthAdjust="spacingAndGlyphs" xml:space="preserve">1010</text>
<text x="1101.0" y="369.0" fill="#00ff00" stroke="#00ff00" stroke-width="0.16" textLength="23.6" lengthAdjust="spacingAndGlyphs" xml:space="preserve">1005</text>
<text x="1101.0" y="426.0" fill="#00ff00" stroke="#00ff00" stroke-width="0.16" textLength="23.6" lengthAdjust="spacingAndGlyphs" xml:space="preserve">1000</text>
<text x="1101.0" y="483.0" fill="#00ff00" stroke="#00ff00" stroke-width="0.16" textLength="17.6" lengthAdjust="spacingAndGlyphs" xml:space="preserve">995</text>
<text x="1101.0" y="541.0" fill="#00ff00" stroke="#00ff00" stroke-width="0.16" textLength="17.6" lengthAdjust="spacingAndGlyphs" xml:space="preserve">990</text>
<text x="1138.0" y="81.0" fill="#000000" stroke="#000000" stroke-width="0.16" textLength="20.6" lengthAdjust="spacingAndGlyphs" xml:space="preserve">60.0</text>
<text x="1138.0" y="119.0" fill="#000000" stroke="#000000" stroke-width="0.16" textLength="20.6" lengthAdjust="spacingAndGlyphs" xml:space="preserve">55.0</text>
<text x="1138.0" y="158.0" fill="#000000" stroke="#000000" stroke-width="0.16" textLength="20.6" lengthAdjust="spacingAndGlyphs" xml:space="preserve">50.0</text>
<text x="1138.0" y="196.0" fill="#000000" stroke="#000000" stroke-width="0.16" textLength="20.6" lengthAdjust="spacingAndGlyphs" xml:space="preserve">45.0</text>
<text x="1138.0" y="234.0" fill="#000000" stroke="#000000" stroke-width="0.16" textLength="20.6" lengthAdjust="spacingAndGlyphs" xml:space="preserve">40.0</text>
<text x="1138.0" y="273.0" fill="#000000" stroke="#000000" stroke-width="0.16" textLength="20.6" lengthAdjust="spacingAndGlyphs" xml:space="preserve">35.0</text>
<text x="1138.0" y="311.0" fill="#000000" stroke="#000000" stroke-width="0.16" textLength="20.6" lengthAdjust="spacingAndGlyphs" xml:space="preserve">30.0</text>
<text x="1138.0" y="349.0" fill="#000000" stroke="#000000" stroke-width="0.16" textLength="20.6" lengthAdjust="spacingAndGlyphs" xml:space="preserve">25.0</text>
<text x="1138.0" y="388.0" fill="#000000" stroke="#000000" stroke-width="0.16" textLength="20.6" lengthAdjust="spacingAndGlyphs" xml:space="preserve">20.0</text>
<text x="1138.0" y="426.0" fill="#000000" stroke="#000000" stroke-width="0.16" textLength="20.6" lengthAdjust="spacingAndGlyphs" xml:space="preserve">15.0</text>
<text x="1138.0" y="464.0" fill="#000000" stroke="#000000" stroke-width="0.16" textLength="20.6" lengthAdjust="spacingAndGlyphs" xml:space="preserve">10.0</text>
<text x="1138.0" y="503.0" fill="#000000" stroke="#000000" stroke-width="0.16" textLength="14.6" lengthAdjust="spacingAndGlyphs" xml:space="preserve">5.0</text>
<text x="1138.0" y="541.0" fill="#000000" stroke="#000000" stroke-width="0.16" textLength="14.6" lengthAdjust="spacingAndGlyphs" xml:space="preserve">0.0</text>
<text x="1175.0" y="81.0" fill="#ffff00" stroke="#ffff00" stroke-width="0.16" textLength="17.6" lengthAdjust="spacingAndGlyphs" xml:space="preserve">100</text>
<text x="1175.0" y="127.0" fill="#ffff00" stroke="#ffff00" stroke-width="0.16" textLength="11.6" lengthAdjust="spacingAndGlyphs" xml:space="preserve">90</text>
<text x="1175.0" y="173.0" fill="#ffff00" stroke="#ffff00" stroke-width="0.16" textLength="11.6" lengthAdjust="spacingAndGlyphs" xml:space="preserve">80</text>
<text x="1175.0" y="219.0" fill="#ffff00" stroke="#ffff00" stroke-width="0.16" textLength="11.6" lengthAdjust="spacingAndGlyphs" xml:space="preserve">70</text>
<text x="1175.0" y="265.0" fill="#ffff00" stroke="#ffff00" stroke-width="0.16" textLength="11.6" lengthAdjust="spacingAndGlyphs" xml:space="preserve">60</text>
<text x="1175.0" y="311.0" fill="#ffff00" stroke="#ffff00" stroke-width="0.16" textLength="11.6" lengthAdjust="spacingAndGlyphs" xml:space="preserve">50</text>
<text x="1175.0" y="357.0" fill="#ffff00" stroke="#ffff00" stroke-width="0.16" textLength="11.6" lengthAdjust="spacingAndGlyphs" xml:space="preserve">40</text>
<text x="1175.0" y="403.0" fill="#ffff00" stroke="#ffff00" stroke-width="0.16" textLength="11.6" lengthAdjust="spacingAndGlyphs" xml:space="preserve">30</text>
<text x="1175.0" y="449.0" fill="#ffff00" stroke="#ffff00" stroke-width="0.16" textLength="11.6" lengthAdjust="spacingAndGlyphs" xml:space="preserve">20</text>
<text x="1175.0" y="495.0" fill="#ffff00" stroke="#ffff00" stroke-width="0.16" textLength="11.6" lengthAdjust="spacingAndGlyphs" xml:space="preserve">10</text>
<text x="1175.0" y="541.0" fill="#ffff00" stroke="#ffff00" stroke-width="0.16" textLength="5.6" lengthAdjust="spacingAndGlyphs" xml:space="preserve">0</text>
<text x="1212.0" y="81.0" fill="#ff8080" stroke="#ff8080" stroke-width="0.16" textLength="23.6" lengthAdjust="spacingAndGlyphs" xml:space="preserve">1200</text>
<text x="1212.0" y="100.0" fill="#ff8080" stroke="#ff8080" stroke-width="0.16" textLength="23.6" lengthAdjust="spacingAndGlyphs" xml:space="preserve">1150</text>
<text x="1212.0" y="119.0" fill="#ff8080" stroke="#ff8080" stroke-width="0.16" textLength="23.6" lengthAdjust="spacingAndGlyphs" xml:space="preserve">1100</text>
<text x="1212.0" y="139.0" fill="#ff8080" stroke="#ff8080" stroke-width="0.16" textLength="23.6" lengthAdjust="spacingAndGlyphs" xml:space="preserve">1050</text>
<text x="1212.0" y="158.0" fill="#ff8080" stroke="#ff8080" stroke-width="0.16" textLength="23.6" lengthAdjust="spacingAndGlyphs" xml:space="preserve">1000</text>
<text x="1212.0" y="177.0" fill="#ff8080" stroke="#ff8080" stroke-width="0.16" textLength="17.6" lengthAdjust="spacingAndGlyphs" xml:space="preserve">950</text>
<text x="1212.0" y="196.0" fill="#ff8080" stroke="#ff8080" stroke-width="0.16" textLength="17.6" lengthAdjust="spacingAndGlyphs" xml:space="preserve">900</text>
<text x="1212.0" y="215.0" fill="#ff8080" stroke="#ff8080" stroke-width="0.16" textLength="17.6" lengthAdjust="spacingAndGlyphs" xml:space="preserve">850</text>
<text x="1212.0" y="234.0" fill="#ff8080" stroke="#ff8080" stroke-width="0.16" textLength="17.6" lengthAdjust="spacingAndGlyphs" xml:space="preserve">800</text>
<text x="1212.0" y="253.0" fill="#ff8080" stroke="#ff8080" stroke-width="0.16" textLength="17.6" lengthAdjust="spacingAndGlyphs" xml:space="preserve">750</text>
<text x="1212.0" y="273.0" fill="#ff8080" stroke="#ff8080" stroke-width="0.16" textLength="17.6" lengthAdjust="spacingAndGlyphs" xml:space="preserve">700</text>
<text x="1212.0" y="292.0" fill="#ff8080" stroke="#ff8080" stroke-width="0.16" textLength="17.6" lengthAdjust="spacingAndGlyphs" xml:space="preserve">650</text>
<text x="1212.0" y="311.0" fill="#ff8080" stroke="#ff8080" stroke-width="0.16" textLength="17.6" lengthAdjust="spacingAndGlyphs" xml:space="preserve">600</text>
<text x="1212.0" y="330.0" fill="#ff8080" stroke="#ff8080" stroke-width="0.16" textLength="17.6" lengthAdjust="spacingAndGlyphs" xml:space="preserve">550</text>
<text x="1212.0" y="349.0" fill="#ff8080" stroke="#ff8080" stroke-width="0.16" textLength="17.6" lengthAdjust="spacingAndGlyphs" xml:space="preserve">500</text>
<text x="1212.0" y="369.0" fill="#ff8080" stroke="#ff8080" stroke-width="0.16" textLength="17.6" lengthAdjust="spacingAndGlyphs" xml:space="preserve">450</text>
<text x="1212.0" y="388.0" fill="#ff8080" stroke="#ff8080" stroke-width="0.16" textLength="17.6" lengthAdjust="spacingAndGlyphs" xml:space="preserve">400</text>
<text x="1212.0" y="407.0" fill="#ff8080" stroke="#ff8080" stroke-width="0.16" textLength="17.6" lengthAdjust="spacingAndGlyphs" xml:space="preserve">350</text>
<text x="1212.0" y="426.0" fill="#ff8080" stroke="#ff8080" stroke-width="0.16" textLength="17.6" lengthAdjust="spacingAndGlyphs" xml:space="preserve">300</text>
<text x="1212.0" y="445.0" fill="#ff8080" stroke="#ff8080" stroke-width="0.16" textLength="17.6" lengthAdjust="spacingAndGlyphs" xml:space="preserve">250</text>
<text x="1212.0" y="464.0" fill="#ff8080" stroke="#ff8080" stroke-width="0.16" textLength="17.6" lengthAdjust="spacingAndGlyphs" xml:space="preserve">200</text>
<text x="1212.0" y="483.0" fill="#ff8080" stroke="#ff8080" stroke-width="0.16" textLength="17.6" lengthAdjust="spacingAndGlyphs" xml:space="preserve">150</text>
<text x="1212.0" y="503.0" fill="#ff8080" stroke="#ff8080" stroke-width="0.16" textLength="17.6" lengthAdjust="spacingAndGlyphs" xml:space="preserve">100</text>
<text x="1212.0" y="522.0" fill="#ff8080" stroke="#ff8080" stroke-width="0.16" textLength="11.6" lengthAdjust="spacingAndGlyphs" xml:space="preserve">50</text>
<text x="1212.0" y="541.0" fill="#ff8080" stroke="#ff8080" stroke-width="0.16" textLength="5.6" lengthAdjust="spacingAndGlyphs" xml:space="preserve">0</text>
<text x="1058.7" y="65.0" fill="#0000ff" stroke="#0000ff" stroke-width="0.16" textLength="7.6" lengthAdjust="spacingAndGlyphs" xml:space="preserve">%</text>
<text x="1095.7" y="65.0" fill="#00ff00" stroke="#00ff00" stroke-width="0.16" textLength="18.6" lengthAdjust="spacingAndGlyphs" xml:space="preserve">hPa</text>
<text x="1133.2" y="65.0" fill="#000" stroke="#000" stroke-width="0.16" textLength="23.6" lengthAdjust="spacingAndGlyphs" xml:space="preserve">km/h</text>
<text x="1169.7" y="65.0" fill="#ffff00" stroke="#ffff00" stroke-width="0.16" textLength="15.6" lengthAdjust="spacingAndGlyphs" xml:space="preserve">min</text>
<text x="1206.2" y="65.0" fill="#ff8080" stroke="#ff8080" stroke-width="0.16" textLength="26.6" lengthAdjust="spacingAndGlyphs" xml:space="preserve">W/m²</text>
<text x="212.7" y="41.6" fill="#ff0000" stroke="#ff0000" stroke-width="0.16" textLength="46.6" lengthAdjust="spacingAndGlyphs" xml:space="preserve">Temp. 2m</text>
<text x="307.7" y="41.6" fill="#ff0000" stroke="#ff0000" stroke-width="0.16" textLength="56.6" lengthAdjust="spacingAndGlyphs" xml:space="preserve">Temp. 5cm*</text>
<text x="402.7" y="41.6" fill="#ff0000" stroke="#ff0000" stroke-width="0.16" textLength="72.6" lengthAdjust="spacingAndGlyphs" xml:space="preserve">BodenTemp 10</text>
<text x="497.7" y="41.6" fill="#ff0000" stroke="#ff0000" stroke-width="0.16" textLength="72.6" lengthAdjust="spacingAndGlyphs" xml:space="preserve">BodenTemp 25</text>
<text x="592.7" y="41.6" fill="#ff0000" stroke="#ff0000" stroke-width="0.16" textLength="72.6" lengthAdjust="spacingAndGlyphs" xml:space="preserve">BodenTemp 50</text>
<text x="687.7" y="41.6" fill="#ff0000" stroke="#ff0000" stroke-width="0.16" textLength="72.6" lengthAdjust="spacingAndGlyphs" xml:space="preserve">BodenTemp 80</text>
<text x="782.7" y="41.6" fill="#0000ff" stroke="#0000ff" stroke-width="0.16" textLength="59.6" lengthAdjust="spacingAndGlyphs" xml:space="preserve">Feuchte 2m*</text>
<text x="877.7" y="41.6" fill="#0000ff" stroke="#0000ff" stroke-width="0.16" textLength="66.6" lengthAdjust="spacingAndGlyphs" xml:space="preserve">Bod.Feucht10</text>
<text x="972.7" y="41.6" fill="#0000ff" stroke="#0000ff" stroke-width="0.16" textLength="66.6" lengthAdjust="spacingAndGlyphs" xml:space="preserve">Bod.Feucht25</text>
<text x="212.7" y="55.6" fill="#0000ff" stroke="#0000ff" stroke-width="0.16" textLength="66.6" lengthAdjust="spacingAndGlyphs" xml:space="preserve">Bod.Feucht50</text>
<text x="307.7" y="55.6" fill="#0000ff" stroke="#0000ff" stroke-width="0.16" textLength="66.6" lengthAdjust="spacingAndGlyphs" xml:space="preserve">Bod.Feucht80</text>
<text x="402.7" y="55.6" fill="#00ff00" stroke="#00ff00" stroke-width="0.16" textLength="44.6" lengthAdjust="spacingAndGlyphs" xml:space="preserve">Luftdruck</text>
<text x="497.7" y="55.6" fill="#00ffff" stroke="#00ffff" stroke-width="0.16" textLength="31.6" lengthAdjust="spacingAndGlyphs" xml:space="preserve">Regen</text>
<text x="592.7" y="55.6" fill="#000000" stroke="#000000" stroke-width="0.16" textLength="24.6" lengthAdjust="spacingAndGlyphs" xml:space="preserve">Wind</text>
<text x="687.7" y="55.6" fill="#808080" stroke="#808080" stroke-width="0.16" textLength="42.6" lengthAdjust="spacingAndGlyphs" xml:space="preserve">Richtung</text>
<text x="782.7" y="55.6" fill="#ffff00" stroke="#ffff00" stroke-width="0.16" textLength="67.6" lengthAdjust="spacingAndGlyphs" xml:space="preserve">Sonnenschein</text>
<text x="877.7" y="55.6" fill="#ff00ff" stroke="#ff00ff" stroke-width="0.16" textLength="14.6" lengthAdjust="spacingAndGlyphs" xml:space="preserve">UV</text>
<text x="972.7" y="55.6" fill="#ff8080" stroke="#ff8080" stroke-width="0.16" textLength="23.6" lengthAdjust="spacingAndGlyphs" xml:space="preserve">Solar</text>
<text x="212.7" y="69.6" fill="#000000" stroke="#000000" stroke-width="0.16" textLength="48.6" lengthAdjust="spacingAndGlyphs" xml:space="preserve">Windböen</text>
<text x="384.4" y="566.0" fill="#000" stroke="#000" stroke-width="0.16" textLength="26.6" lengthAdjust="spacingAndGlyphs" xml:space="preserve">06:21</text>
<text x="871.4" y="566.0" fill="#000" stroke="#000" stroke-width="0.16" textLength="26.6" lengthAdjust="spacingAndGlyphs" xml:space="preserve">19:47</text>
<text x="8.2" y="591.0" fill="#000" stroke="#000" stroke-width="0.16" font-weight="bold" textLength="39.4" lengthAdjust="spacingAndGlyphs" xml:space="preserve">Sensor</text>
<text x="8.2" y="607.0" fill="#000" stroke="#000" stroke-width="0.16" font-weight="bold" textLength="47.4" lengthAdjust="spacingAndGlyphs" xml:space="preserve">MinWert</text>
<text x="8.2" y="623.0" fill="#000" stroke="#000" stroke-width="0.16" font-weight="bold" textLength="50.4" lengthAdjust="spacingAndGlyphs" xml:space="preserve">MaxWert</text>
<text x="8.2" y="639.0" fill="#000" stroke="#000" stroke-width="0.16" font-weight="bold" textLength="72.4" lengthAdjust="spacingAndGlyphs" xml:space="preserve">Durchschnitt</text>
<text x="94.6" y="591.0" fill="#000" stroke="#000" stroke-width="0.16" font-weight="bold" textLength="55.0" lengthAdjust="spacingAndGlyphs" xml:space="preserve">Temp. 2m</text>
<text x="187.4" y="591.0" fill="#000" stroke="#000" stroke-width="0.16" font-weight="bold" textLength="12.6" lengthAdjust="spacingAndGlyphs" xml:space="preserve">°C</text>
<text x="100.6" y="607.0" fill="#000" stroke="#000" stroke-width="0.16" textLength="26.6" lengthAdjust="spacingAndGlyphs" xml:space="preserve">06:30</text>
<text x="178.4" y="607.0" fill="#000" stroke="#000" stroke-width="0.16" textLength="20.6" lengthAdjust="spacingAndGlyphs" xml:space="preserve">12.1</text>
<text x="100.6" y="623.0" fill="#000" stroke="#000" stroke-width="0.16" textLength="26.6" lengthAdjust="spacingAndGlyphs" xml:space="preserve">15:00</text>
<text x="178.4" y="623.0" fill="#000" stroke="#000" stroke-width="0.16" textLength="20.6" lengthAdjust="spacingAndGlyphs" xml:space="preserve">26.1</text>
<text x="172.4" y="639.0" fill="#000" stroke="#000" stroke-width="0.16" textLength="26.6" lengthAdjust="spacingAndGlyphs" xml:space="preserve">18.56</text>
<text x="211.6" y="591.0" fill="#000" stroke="#000" stroke-width="0.16" font-weight="bold" textLength="66.0" lengthAdjust="spacingAndGlyphs" xml:space="preserve">Feuchte 2m</text>
<text x="308.4" y="591.0" fill="#000" stroke="#000" stroke-width="0.16" font-weight="bold" textLength="8.6" lengthAdjust="spacingAndGlyphs" xml:space="preserve">%</text>
<text x="217.6" y="607.0" fill="#000" stroke="#000" stroke-width="0.16" textLength="26.6" lengthAdjust="spacingAndGlyphs" xml:space="preserve">14:06</text>
<text x="304.4" y="607.0" fill="#000" stroke="#000" stroke-width="0.16" textLength="11.6" lengthAdjust="spacingAndGlyphs" xml:space="preserve">29</text>
<text x="217.6" y="623.0" fill="#000" stroke="#000" stroke-width="0.16" textLength="26.6" lengthAdjust="spacingAndGlyphs" xml:space="preserve">06:40</text>
<text x="304.4" y="623.0" fill="#000" stroke="#000" stroke-width="0.16" textLength="11.6" lengthAdjust="spacingAndGlyphs" xml:space="preserve">76</text>
<text x="304.4" y="639.0" fill="#000" stroke="#000" stroke-width="0.16" textLength="11.6" lengthAdjust="spacingAndGlyphs" xml:space="preserve">55</text>
<text x="329.6" y="591.0" fill="#000" stroke="#000" stroke-width="0.16" font-weight="bold" textLength="55.0" lengthAdjust="spacingAndGlyphs" xml:space="preserve">Luftdruck</text>
<text x="413.4" y="591.0" fill="#000" stroke="#000" stroke-width="0.16" font-weight="bold" textLength="21.6" lengthAdjust="spacingAndGlyphs" xml:space="preserve">hPa</text>
<text x="335.6" y="607.0" fill="#000" stroke="#000" stroke-width="0.16" textLength="26.6" lengthAdjust="spacingAndGlyphs" xml:space="preserve">08:10</text>
<text x="401.4" y="607.0" fill="#000" stroke="#000" stroke-width="0.16" textLength="32.6" lengthAdjust="spacingAndGlyphs" xml:space="preserve">1012.5</text>
<text x="335.6" y="623.0" fill="#000" stroke="#000" stroke-width="0.16" textLength="26.6" lengthAdjust="spacingAndGlyphs" xml:space="preserve">15:30</text>
<text x="401.4" y="623.0" fill="#000" stroke="#000" stroke-width="0.16" textLength="32.6" lengthAdjust="spacingAndGlyphs" xml:space="preserve">1015.0</text>
<text x="330.5" y="639.0" fill="#000" stroke="#000" stroke-width="0.16" textLength="48.6" lengthAdjust="spacingAndGlyphs" xml:space="preserve">^1.0hPa/h</text>
<text x="401.4" y="639.0" fill="#000" stroke="#000" stroke-width="0.16" textLength="32.6" lengthAdjust="spacingAndGlyphs" xml:space="preserve">1013.9</text>
<text x="447.6" y="591.0" fill="#000" stroke="#000" stroke-width="0.16" font-weight="bold" textLength="30.0" lengthAdjust="spacingAndGlyphs" xml:space="preserve">Wind</text>
<text x="525.4" y="591.0" fill="#000" stroke="#000" stroke-width="0.16" font-weight="bold" textLength="27.6" lengthAdjust="spacingAndGlyphs" xml:space="preserve">km/h</text>
<text x="448.5" y="607.0" fill="#000" stroke="#000" stroke-width="0.16" textLength="44.6" lengthAdjust="spacingAndGlyphs" xml:space="preserve">Ø 10 min.</text>
<text x="537.4" y="607.0" fill="#000" stroke="#000" stroke-width="0.16" textLength="14.6" lengthAdjust="spacingAndGlyphs" xml:space="preserve">3.2</text>
<text x="453.6" y="623.0" fill="#000" stroke="#000" stroke-width="0.16" textLength="26.6" lengthAdjust="spacingAndGlyphs" xml:space="preserve">10:55</text>
<text x="496.4" y="623.0" fill="#000" stroke="#000" stroke-width="0.16" textLength="55.6" lengthAdjust="spacingAndGlyphs" xml:space="preserve">W-SW 14.5</text>
<text x="453.6" y="639.0" fill="#000" stroke="#000" stroke-width="0.16" textLength="43.6" lengthAdjust="spacingAndGlyphs" xml:space="preserve">326.8 km</text>
<text x="537.4" y="639.0" fill="#000" stroke="#000" stroke-width="0.16" textLength="14.6" lengthAdjust="spacingAndGlyphs" xml:space="preserve">6.2</text>
<text x="565.6" y="591.0" fill="#000" stroke="#000" stroke-width="0.16" font-weight="bold" textLength="58.0" lengthAdjust="spacingAndGlyphs" xml:space="preserve">Windböen</text>
<text x="643.4" y="591.0" fill="#000" stroke="#000" stroke-width="0.16" font-weight="bold" textLength="27.6" lengthAdjust="spacingAndGlyphs" xml:space="preserve">km/h</text>
<text x="566.5" y="607.0" fill="#000" stroke="#000" stroke-width="0.16" textLength="44.6" lengthAdjust="spacingAndGlyphs" xml:space="preserve">Ø 10 min.</text>
<text x="655.4" y="607.0" fill="#000" stroke="#000" stroke-width="0.16" textLength="14.6" lengthAdjust="spacingAndGlyphs" xml:space="preserve">5.6</text>
<text x="571.6" y="623.0" fill="#000" stroke="#000" stroke-width="0.16" textLength="26.6" lengthAdjust="spacingAndGlyphs" xml:space="preserve">10:50</text>
<text x="618.4" y="623.0" fill="#000" stroke="#000" stroke-width="0.16" textLength="51.6" lengthAdjust="spacingAndGlyphs" xml:space="preserve">S-SW 35.4</text>
<text x="571.6" y="639.0" fill="#000" stroke="#000" stroke-width="0.16" textLength="43.6" lengthAdjust="spacingAndGlyphs" xml:space="preserve">326.8 km</text>
<text x="649.4" y="639.0" fill="#000" stroke="#000" stroke-width="0.16" textLength="20.6" lengthAdjust="spacingAndGlyphs" xml:space="preserve">13.6</text>
<text x="683.6" y="591.0" fill="#000" stroke="#000" stroke-width="0.16" font-weight="bold" textLength="38.0" lengthAdjust="spacingAndGlyphs" xml:space="preserve">Regen</text>
<text x="767.4" y="591.0" fill="#000" stroke="#000" stroke-width="0.16" font-weight="bold" textLength="21.6" lengthAdjust="spacingAndGlyphs" xml:space="preserve">l/m²</text>
<text x="689.6" y="623.0" fill="#000" stroke="#000" stroke-width="0.16" textLength="26.6" lengthAdjust="spacingAndGlyphs" xml:space="preserve">23:55</text>
<text x="773.4" y="623.0" fill="#000" stroke="#000" stroke-width="0.16" textLength="14.6" lengthAdjust="spacingAndGlyphs" xml:space="preserve">0.0</text>
<text x="684.5" y="639.0" fill="#000" stroke="#000" stroke-width="0.16" textLength="38.6" lengthAdjust="spacingAndGlyphs" xml:space="preserve">Gesamt:</text>
<text x="773.4" y="639.0" fill="#000" stroke="#000" stroke-width="0.16" textLength="14.6" lengthAdjust="spacingAndGlyphs" xml:space="preserve">0.0</text>
<text x="801.6" y="591.0" fill="#000" stroke="#000" stroke-width="0.16" font-weight="bold" textLength="18.0" lengthAdjust="spacingAndGlyphs" xml:space="preserve">UV</text>
<text x="882.4" y="591.0" fill="#000" stroke="#000" stroke-width="0.16" font-weight="bold" textLength="24.6" lengthAdjust="spacingAndGlyphs" xml:space="preserve">UV-I</text>
<text x="807.6" y="607.0" fill="#000" stroke="#000" stroke-width="0.16" textLength="26.6" lengthAdjust="spacingAndGlyphs" xml:space="preserve">23:55</text>
<text x="891.4" y="607.0" fill="#000" stroke="#000" stroke-width="0.16" textLength="14.6" lengthAdjust="spacingAndGlyphs" xml:space="preserve">0.0</text>
<text x="807.6" y="623.0" fill="#000" stroke="#000" stroke-width="0.16" textLength="26.6" lengthAdjust="spacingAndGlyphs" xml:space="preserve">12:55</text>
<text x="891.4" y="623.0" fill="#000" stroke="#000" stroke-width="0.16" textLength="14.6" lengthAdjust="spacingAndGlyphs" xml:space="preserve">3.4</text>
<text x="891.4" y="639.0" fill="#000" stroke="#000" stroke-width="0.16" textLength="14.6" lengthAdjust="spacingAndGlyphs" xml:space="preserve">2.1</text>
<text x="919.6" y="591.0" fill="#000" stroke="#000" stroke-width="0.16" font-weight="bold" textLength="30.0" lengthAdjust="spacingAndGlyphs" xml:space="preserve">Solar</text>
<text x="992.9" y="591.0" fill="#000" stroke="#000" stroke-width="0.16" font-weight="bold" textLength="30.6" lengthAdjust="spacingAndGlyphs" xml:space="preserve">W/m²</text>
<text x="920.5" y="607.0" fill="#000" stroke="#000" stroke-width="0.16" textLength="43.6" lengthAdjust="spacingAndGlyphs" xml:space="preserve">Elevation</text>
<text x="986.9" y="607.0" fill="#000" stroke="#000" stroke-width="0.16" textLength="35.6" lengthAdjust="spacingAndGlyphs" xml:space="preserve">-28.607</text>
<text x="925.6" y="623.0" fill="#000" stroke="#000" stroke-width="0.16" textLength="26.6" lengthAdjust="spacingAndGlyphs" xml:space="preserve">12:25</text>
<text x="1004.9" y="623.0" fill="#000" stroke="#000" stroke-width="0.16" textLength="17.6" lengthAdjust="spacingAndGlyphs" xml:space="preserve">773</text>
<text x="920.5" y="639.0" fill="#000" stroke="#000" stroke-width="0.16" textLength="51.6" lengthAdjust="spacingAndGlyphs" xml:space="preserve">Tag:9:30 h</text>
<text x="1004.9" y="639.0" fill="#000" stroke="#000" stroke-width="0.16" textLength="17.6" lengthAdjust="spacingAndGlyphs" xml:space="preserve">355</text></g>
</svg></body></html>
